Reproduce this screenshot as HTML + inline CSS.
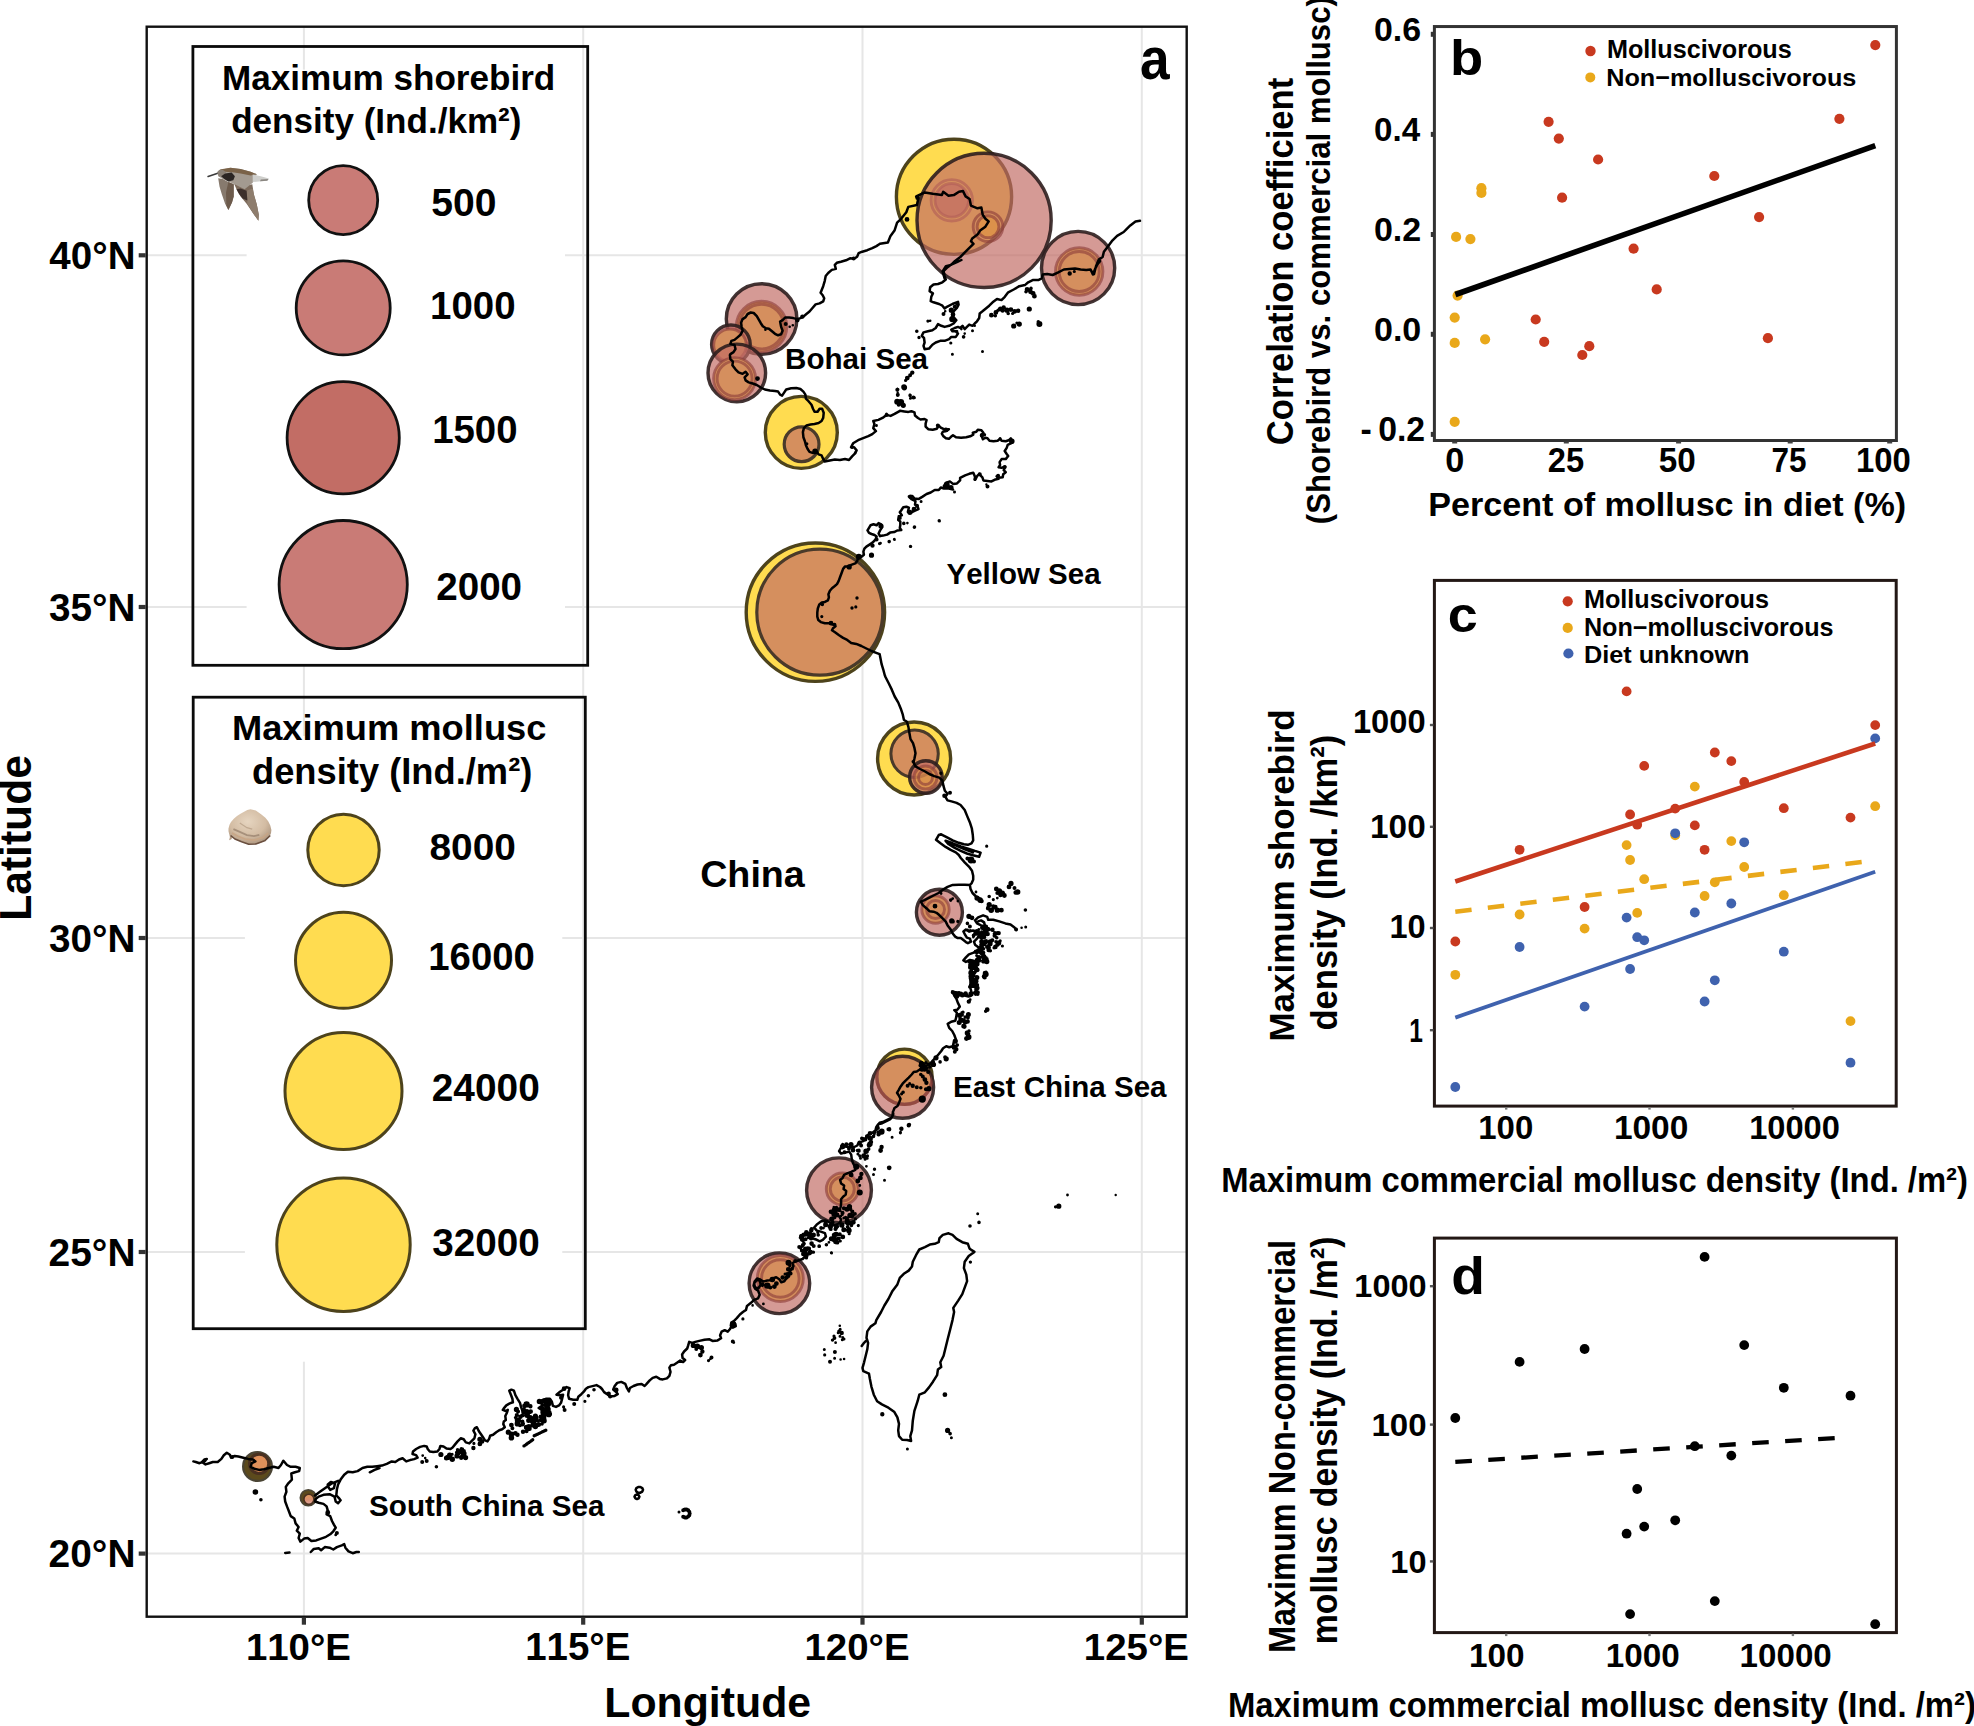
<!DOCTYPE html>
<html><head><meta charset="utf-8"><title>Figure</title>
<style>
html,body{margin:0;padding:0;background:#fff;}
svg{display:block;}
text{font-family:"Liberation Sans",sans-serif;font-weight:bold;font-kerning:none;font-variant-ligatures:none;}
</style></head><body>
<svg width="1974" height="1726" viewBox="0 0 1974 1726">
<rect width="1974" height="1726" fill="#fff"/>
<line x1="303.9" y1="26.7" x2="303.9" y2="1616.7" stroke="#e6e6e6" stroke-width="2.0"/>
<line x1="583.2" y1="26.7" x2="583.2" y2="1616.7" stroke="#e6e6e6" stroke-width="2.0"/>
<line x1="862.5" y1="26.7" x2="862.5" y2="1616.7" stroke="#e6e6e6" stroke-width="2.0"/>
<line x1="1141.8" y1="26.7" x2="1141.8" y2="1616.7" stroke="#e6e6e6" stroke-width="2.0"/>
<line x1="146.7" y1="255.3" x2="1186.7" y2="255.3" stroke="#e6e6e6" stroke-width="2.0"/>
<line x1="146.7" y1="607.0" x2="1186.7" y2="607.0" stroke="#e6e6e6" stroke-width="2.0"/>
<line x1="146.7" y1="938.0" x2="1186.7" y2="938.0" stroke="#e6e6e6" stroke-width="2.0"/>
<line x1="146.7" y1="1252.0" x2="1186.7" y2="1252.0" stroke="#e6e6e6" stroke-width="2.0"/>
<line x1="146.7" y1="1553.6" x2="1186.7" y2="1553.6" stroke="#e6e6e6" stroke-width="2.0"/>
<circle cx="954.0" cy="196.8" r="57.6" fill="#FFDC50" stroke="#4d431c" stroke-width="3.4" />
<circle cx="951.8" cy="200.3" r="16.8" fill="rgba(194,108,100,0.686)" stroke="rgba(140,62,58,0.62)" stroke-width="2.9" />
<circle cx="951.8" cy="200.3" r="20.7" fill="none" stroke="rgba(140,62,58,0.62)" stroke-width="2.9" />
<circle cx="984.1" cy="220.4" r="67.1" fill="rgba(194,108,100,0.686)" stroke="rgba(45,30,30,0.9)" stroke-width="3.4" />
<circle cx="988.0" cy="226.7" r="14.8" fill="none" stroke="rgba(140,62,58,0.62)" stroke-width="2.9" />
<circle cx="988.0" cy="226.7" r="10.9" fill="rgba(226,150,60,0.55)" stroke="rgba(140,62,58,0.62)" stroke-width="2.9" />
<circle cx="1078.1" cy="268.0" r="36.6" fill="rgba(194,108,100,0.686)" stroke="rgba(45,30,30,0.9)" stroke-width="3.4" />
<circle cx="1079.2" cy="271.5" r="23.7" fill="#D58F5E" stroke="rgba(140,62,58,0.62)" stroke-width="2.9" />
<circle cx="1079.2" cy="271.5" r="20.0" fill="none" stroke="rgba(140,62,58,0.62)" stroke-width="2.9" />
<circle cx="761.6" cy="319.0" r="35.3" fill="rgba(194,108,100,0.686)" stroke="rgba(45,30,30,0.9)" stroke-width="3.4" />
<circle cx="761.5" cy="326.6" r="25.3" fill="#D58F5E" stroke="rgba(140,62,58,0.62)" stroke-width="2.9" />
<circle cx="761.5" cy="326.6" r="22.3" fill="none" stroke="rgba(140,62,58,0.62)" stroke-width="2.9" />
<circle cx="730.9" cy="344.3" r="19.3" fill="rgba(194,108,100,0.686)" stroke="rgba(45,30,30,0.9)" stroke-width="3.4" />
<circle cx="730.0" cy="345.3" r="16.3" fill="#D58F5E" stroke="rgba(140,62,58,0.62)" stroke-width="2.9" />
<circle cx="736.8" cy="372.9" r="28.8" fill="rgba(194,108,100,0.686)" stroke="rgba(45,30,30,0.9)" stroke-width="3.4" />
<circle cx="734.6" cy="378.6" r="21.0" fill="#D58F5E" stroke="rgba(140,62,58,0.62)" stroke-width="2.9" />
<circle cx="734.6" cy="378.6" r="17.5" fill="none" stroke="rgba(140,62,58,0.62)" stroke-width="2.9" />
<circle cx="801.3" cy="432.4" r="36.0" fill="#FFDC50" stroke="#4d431c" stroke-width="3.4" />
<circle cx="801.6" cy="444.2" r="17.4" fill="#D58F5E" stroke="#4a3a2a" stroke-width="3.2" />
<circle cx="815.4" cy="612.2" r="69.2" fill="#FFDC50" stroke="#4d431c" stroke-width="3.4" />
<circle cx="819.8" cy="612.2" r="63.0" fill="#D58F5E" stroke="#4a3a2a" stroke-width="3.2" />
<circle cx="914.1" cy="758.5" r="36.5" fill="#FFDC50" stroke="#4d431c" stroke-width="3.4" />
<circle cx="914.6" cy="753.8" r="23.7" fill="#D58F5E" stroke="#4a3a2a" stroke-width="3.0" />
<circle cx="925.9" cy="777.0" r="16.3" fill="rgba(194,108,100,0.686)" stroke="rgba(45,30,30,0.9)" stroke-width="3.4" />
<circle cx="925.5" cy="777.5" r="11.5" fill="rgba(226,150,60,0.5)" stroke="rgba(140,62,58,0.62)" stroke-width="2.9" />
<circle cx="925.5" cy="777.5" r="7.0" fill="none" stroke="rgba(140,62,58,0.62)" stroke-width="2.9" />
<circle cx="939.4" cy="912.2" r="23.0" fill="rgba(194,108,100,0.686)" stroke="rgba(45,30,30,0.9)" stroke-width="3.4" />
<circle cx="935.5" cy="909.5" r="13.7" fill="#D58F5E" stroke="rgba(140,62,58,0.62)" stroke-width="2.9" />
<circle cx="935.5" cy="909.5" r="9.0" fill="none" stroke="rgba(140,62,58,0.62)" stroke-width="2.9" />
<circle cx="904.5" cy="1076.7" r="27.6" fill="#FFDC50" stroke="#4d431c" stroke-width="3.4" />
<circle cx="902.6" cy="1087.3" r="31.0" fill="rgba(194,108,100,0.686)" stroke="rgba(45,30,30,0.9)" stroke-width="3.4" />
<defs><clipPath id="wzc"><circle cx="902.6" cy="1087.3" r="30.8"/></clipPath></defs>
<circle cx="904.5" cy="1076.7" r="27.8" fill="none" stroke="rgba(140,62,58,0.62)" stroke-width="3.0" clip-path="url(#wzc)"/>
<circle cx="839.0" cy="1190.3" r="32.4" fill="rgba(194,108,100,0.686)" stroke="rgba(45,30,30,0.9)" stroke-width="3.4" />
<circle cx="842.3" cy="1189.0" r="16.0" fill="#D58F5E" stroke="rgba(140,62,58,0.62)" stroke-width="2.9" />
<circle cx="842.3" cy="1189.0" r="12.0" fill="none" stroke="rgba(140,62,58,0.62)" stroke-width="2.9" />
<circle cx="779.4" cy="1283.3" r="30.3" fill="rgba(194,108,100,0.686)" stroke="rgba(45,30,30,0.9)" stroke-width="3.4" />
<circle cx="780.3" cy="1278.5" r="23.0" fill="#D58F5E" stroke="rgba(140,62,58,0.62)" stroke-width="2.9" />
<circle cx="780.3" cy="1278.5" r="18.8" fill="none" stroke="rgba(140,62,58,0.62)" stroke-width="2.9" />
<defs><linearGradient id="bg2" x1="0" y1="0" x2="0" y2="1"><stop offset="0" stop-color="#E09A5A"/><stop offset="0.55" stop-color="#D98F70"/><stop offset="1" stop-color="#E0A8A0"/></linearGradient></defs>
<circle cx="257.5" cy="1466.5" r="14.4" fill="#5c4a1c" stroke="#4a4434" stroke-width="2.2" />
<circle cx="259.1" cy="1463.8" r="9.6" fill="#E0905A" stroke="#4a3020" stroke-width="3.0" />
<circle cx="308.3" cy="1497.8" r="7.9" fill="#5c4a1c" stroke="#4a4434" stroke-width="1.8" />
<circle cx="308.9" cy="1499.2" r="5.0" fill="url(#bg2)" stroke="#4a3020" stroke-width="1.6" />
<path d="M961.4,260.0 L956.9,262.2 L951.3,264.5 L946.9,267.8 L943.5,271.1 L944.6,275.6 L945.8,279.5 L942.4,282.3 L938.0,284.0 L933.5,284.5 L930.2,287.3 L929.6,291.2 L932.9,293.4 L931.3,296.8 L930.7,301.2 L933.5,302.3 L939.1,304.0 L942.4,305.7 L944.6,308.5 L946.9,306.8 L952.4,304.0 L958.0,301.8 L958.6,304.6 L956.9,307.9 L953.6,311.3 L952.4,315.7 L954.1,318.0 L956.3,320.2 L953.6,323.5 L949.1,325.8 L944.6,326.9 L941.3,325.8 L938.0,324.1 L935.7,328.0 L932.4,330.2 L927.9,331.3 L923.5,332.4 L921.8,335.8 L924.0,338.0 L924.6,342.5 L923.5,345.8 L924.6,349.2 L929.0,348.6 L932.4,344.7 L935.7,342.5 L940.2,340.8 L944.6,340.8 L949.1,339.1 L951.3,336.9 L955.8,336.9 L958.0,333.6 L955.8,331.3 L952.4,331.3 L951.3,329.7 L954.7,328.0 L958.0,326.9 L960.2,328.0 L962.5,325.8 L964.7,329.1 L966.9,326.9 L969.2,324.6 L972.5,325.8 L974.7,323.5 L977.0,321.3 L979.2,318.0 L979.7,313.5 L982.5,311.3 L985.9,308.5 L989.2,305.7 L992.6,302.3 L997.0,299.0 L1001.5,300.1 L1004.8,296.8 L1008.2,292.3 L1013.7,289.5 L1019.3,286.2 L1024.9,285.1 L1028.2,282.3 L1032.7,280.1 L1038.3,280.1 L1041.6,278.4 L1042.7,274.5 L1047.2,273.9 L1052.7,275.0 L1058.3,272.3 L1063.9,269.5 L1069.5,268.9 L1075.0,268.4 L1080.6,269.5 L1086.2,270.0 L1090.6,269.5 L1092.9,274.5 L1095.1,268.9 L1097.3,264.5 L1100.0,261.1 M880.0,243.8 L887.9,242.5 L890.5,235.9 L894.5,230.6 L897.1,222.7 L901.1,218.8 L906.3,212.2 L908.3,206.9 L916.9,205.0 L918.2,199.0 L916.2,196.4 L924.8,192.4 L932.7,193.8 L941.9,195.1 L943.2,191.8 L948.5,195.7 L953.8,195.1 L959.0,191.8 L963.0,191.1 L965.6,196.4 L969.6,199.0 L970.9,205.6 L977.5,208.3 L981.4,207.6 L982.7,214.8 L985.4,218.8 L988.7,221.4 L985.4,226.7 L980.1,230.6 L977.5,234.6 L972.2,238.5 L970.9,241.2 L973.5,243.8 L970.9,246.4 L965.6,251.7 L960.3,257.0 L955.1,260.9 L951.1,264.9 L945.9,266.2 L942.6,271.5 L944.5,278.1 M1140.0,220.8 L1135.5,221.4 L1130.3,225.4 L1126.3,229.3 L1123.7,232.0 L1117.1,235.9 L1111.8,241.2 L1107.9,246.4 L1103.9,251.7 L1102.6,257.0 L1098.7,259.6 L1096.0,266.2 L1094.0,274.1 L1090.7,270.2 M880.0,243.8 L876.4,246.1 L872.3,248.2 L867.3,250.2 L862.2,251.7 L858.6,253.2 L857.1,256.8 L854.1,258.8 L850.0,258.3 L846.0,260.3 L840.9,261.8 L836.8,262.8 L834.8,264.9 L835.8,268.9 L831.8,269.9 L828.2,273.0 L825.7,276.0 L824.7,281.1 L823.2,286.2 L821.6,290.2 L820.6,292.8 L822.7,295.3 L824.2,298.3 L823.2,301.4 L819.6,303.4 L815.6,304.4 L812.5,308.0 L809.5,311.5 L806.4,314.0 L803.4,316.6 L800.4,318.1 L797.3,319.1 L793.3,318.1 L789.2,317.6 L785.1,317.6 L782.6,320.1 L780.1,321.6 L781.1,326.7 L782.6,330.8 L781.1,334.3 L778.1,335.3 L775.0,333.8 L772.0,331.3 L768.9,328.7 L765.9,328.2 L762.8,326.2 L760.8,323.2 L758.8,319.6 L756.8,316.1 L753.7,313.0 L750.7,312.5 L747.6,314.0 L745.6,317.1 L742.6,319.1 L741.1,322.7 L741.6,326.7 L742.6,330.8 L740.5,334.8 L737.5,337.4 L734.5,339.9 L731.4,340.9 L730.4,343.9 L734.5,345.0 L735.5,349.0 L733.5,352.1 L730.4,354.1 M730.4,354.1 L729.9,355.1 L730.4,359.1 L732.9,361.7 L732.4,365.2 L735.5,369.3 L738.5,372.3 L742.6,373.8 L745.6,371.8 L747.6,374.3 L744.6,377.4 L745.6,380.4 L748.7,382.4 L752.7,383.5 L756.8,385.0 L760.8,387.5 L764.9,389.5 L769.9,390.5 L775.0,391.1 L778.1,391.6 L780.1,394.6 L782.1,395.6 L784.1,392.6 L786.2,389.5 L791.2,388.3 L796.3,388.0 L800.4,389.0 L803.4,391.6 L805.4,394.6 L805.9,398.7 L808.5,401.2 L811.5,404.7 L813.0,408.8 L814.5,411.8 L817.6,411.8 L819.6,408.8 L822.1,408.8 L823.7,412.8 L823.2,417.9 L821.6,421.0 L818.6,423.0 L814.5,424.0 L810.5,424.5 L806.4,425.5 L803.9,428.1 L802.9,432.1 L803.4,437.2 L804.9,441.2 L805.9,445.3 L807.5,448.8 L809.5,451.9 L812.5,452.9 L816.6,451.4 L818.6,454.4 L821.6,455.4 L823.2,459.0 L824.7,461.5 L829.8,460.5 L834.8,459.5 L839.9,460.0 L845.0,459.0 L849.0,460.0 L852.1,456.4 L855.1,453.4 L856.6,450.4 L854.1,447.3 L851.0,447.3 L853.1,443.3 L858.1,440.2 L863.2,438.2 L868.3,436.2 L872.3,434.1 L875.9,431.1 L873.3,428.1 L874.4,424.0 L873.3,421.0 L878.4,419.9 L882.5,417.9 L886.5,414.9 L890.6,415.9 L894.6,413.9 L900.0,410.8 M900.0,410.8 L904.3,411.4 L908.4,411.9 L911.4,411.2 L914.5,412.4 L915.0,415.5 L918.0,418.0 L920.5,419.5 L924.6,419.0 L926.6,420.0 L925.6,423.6 L925.6,426.6 L928.2,429.2 L932.7,429.7 L936.8,428.7 L938.8,425.6 L940.8,427.6 L944.9,429.7 L948.9,429.2 L946.9,430.7 L942.8,431.7 L941.8,433.7 L943.4,436.3 L945.9,438.3 L948.9,438.8 L951.0,436.8 L953.0,435.2 L956.0,437.3 L961.1,437.8 L966.2,437.3 L970.2,436.3 L973.3,434.7 L972.8,432.7 L976.3,431.7 L977.8,429.7 L981.4,430.2 L983.4,432.7 L981.4,435.2 L982.9,439.3 L985.4,437.8 L987.5,438.3 L989.5,440.8 L993.5,441.3 L997.6,440.8 L1000.1,438.8 L1001.6,440.8 L1005.7,441.3 L1008.7,440.3 L1010.8,438.3 L1012.8,441.8 L1010.8,443.4 L1007.7,444.9 L1006.7,447.9 L1004.7,451.0 L1006.7,454.0 L1008.2,456.0 L1005.7,459.1 L1001.6,459.1 L999.6,462.1 L1000.1,465.1 L998.6,467.2 L1001.6,467.7 L1005.2,466.7 L1003.7,470.2 L1005.7,472.2 L1003.2,474.3 L1002.7,477.3 L998.6,477.8 L996.6,476.3 L998.6,478.8 L994.5,479.8 L991.5,481.4 L987.5,480.9 L983.4,480.4 L982.4,477.3 L980.4,475.3 L979.3,473.8 L977.3,475.8 L975.3,479.8 L974.8,476.3 L973.3,472.8 L969.2,473.8 L965.1,475.3 L960.1,477.8 L960.1,480.4 L957.0,483.4 L953.0,483.9 L949.9,481.4 L945.9,482.9 L943.9,485.9 L948.9,486.9 L953.0,489.5 L948.9,488.5 L943.9,488.5 L940.8,487.5 L938.8,490.0 L934.7,490.0 L930.7,492.5 L926.6,494.0 L922.6,496.6 L918.5,499.1 L914.5,498.6 L912.4,496.1 L908.9,496.6 L911.4,499.1 L915.5,501.1 L915.0,504.7 L917.5,506.2 L918.5,509.2 L914.5,510.8 L910.4,512.8 L907.9,511.8 L908.9,507.7 L906.4,506.7 L903.3,507.2 L901.3,510.3 L899.8,512.3 L901.8,515.3 L898.8,516.3 L898.2,519.9 L900.3,521.4 L900.3,525.0 L899.8,528.0 L901.3,530.0 L897.2,530.5 L894.2,532.1 L890.1,532.6 L887.1,534.6 L883.0,535.6 L880.0,536.1 M880.0,536.1 L878.6,533.5 L880.1,530.4 L882.1,527.4 L881.1,524.3 L878.6,523.1 L876.6,525.3 L873.5,524.3 L870.5,525.3 L869.0,527.9 L867.5,530.4 L869.0,532.9 L871.5,534.0 L874.5,535.0 L876.6,536.5 L875.6,539.5 L872.5,542.6 L869.5,544.6 L866.4,546.6 L864.4,548.7 L863.4,551.7 L863.9,554.7 L861.4,556.8 L858.3,557.3 L857.3,560.8 L855.3,563.4 L851.2,564.9 L848.2,566.4 L845.1,566.4 L843.1,568.9 L841.6,573.0 L840.1,577.0 L838.6,581.1 L837.0,584.1 L834.5,586.2 L832.0,588.2 L829.9,590.7 L828.4,594.3 L828.9,597.3 L827.9,600.4 L824.9,601.9 L821.8,602.4 L819.3,604.4 L817.8,608.5 L817.3,612.5 L817.3,616.6 L818.3,620.1 L820.8,622.1 L824.9,623.2 L828.9,623.2 L833.0,624.2 L835.5,626.2 L833.0,628.2 L832.0,630.3 L835.0,632.3 L839.1,635.3 L843.1,637.9 L847.2,639.9 L851.2,642.9 L856.3,643.9 L861.4,646.0 L866.4,648.5 L871.5,651.0 L875.6,652.6 L879.6,654.1 L880.6,659.1 L881.6,664.2 L883.2,669.3 L884.7,675.0 M884.7,675.0 L885.6,677.2 L888.7,683.3 L891.7,689.4 L894.7,696.5 L898.3,702.6 L900.8,708.7 L902.8,714.7 L903.9,719.8 L906.9,721.8 L908.4,726.9 L909.4,733.0 L910.5,739.1 L913.0,743.1 L914.5,748.2 L915.5,753.3 L914.5,758.3 L913.5,762.4 L915.5,766.4 L920.1,769.0 L925.1,771.5 L929.2,774.0 L934.3,776.1 L939.3,777.6 L942.4,780.6 L943.4,785.7 L944.9,790.8 L947.5,793.8 L945.4,796.8 L947.5,800.4 L951.5,801.4 L956.6,802.9 L960.6,805.0 L964.7,810.0 L967.2,816.1 L969.8,822.2 L971.8,828.3 L972.8,835.0 M972.8,835.0 L973.2,840.3 L971.5,843.3 L967.9,844.8 L963.9,844.3 L958.8,842.8 L952.7,840.3 L946.6,837.2 L941.6,834.7 L939.0,834.7 L936.0,839.8 L940.5,843.3 L945.6,846.9 L950.7,849.9 L955.8,852.4 L958.8,855.0 L960.8,858.0 L964.9,862.6 L968.9,866.6 L972.0,870.7 L973.2,875.8 L973.2,879.8 L971.5,883.4 L969.9,884.9 M945.6,840.8 L952.7,843.3 L960.8,846.4 L968.9,848.9 L975.0,850.9 L980.6,852.6 L979.1,856.7 L973.0,855.3 L966.9,853.5 L960.8,850.9 L954.7,847.9 L948.7,844.3 L945.6,840.8 M948.7,841.8 L956.8,845.8 L964.9,849.4 L973.0,852.4 M969.9,884.9 L964.9,884.7 L958.8,884.7 L952.7,884.9 L947.6,886.9 L942.6,889.9 L938.5,893.0 L933.5,895.5 L928.4,898.1 L924.3,900.1 L920.8,901.6 L922.8,905.1 L926.4,908.2 L929.4,911.2 L933.5,911.7 L936.5,912.8 L939.5,915.3 L942.6,918.3 L945.6,921.4 L947.6,925.4 L950.7,929.5 L952.7,933.5 L955.2,936.6 L957.8,938.1 L960.8,938.1 L963.4,940.1 L965.9,942.1 L967.9,943.2 L971.0,941.6 L969.9,938.6 L966.9,937.6 L964.9,934.5 L963.4,931.5 L965.9,929.5 L968.9,931.5 L973.0,930.5 L977.0,931.5 L980.1,934.5 L977.0,938.6 L974.0,941.6 L975.0,944.7 L979.1,947.7 L977.0,950.8 L973.0,952.8 L968.9,954.3 L965.9,957.4 L963.4,960.4 L965.9,961.9 L969.9,959.9 L973.0,960.9 L975.0,963.9 L973.0,966.0 L972.0,970.0 L971.0,974.1 L969.9,978.1 L971.0,982.2 L969.9,986.2 L971.0,990.3 L972.0,995.0 M969.9,884.9 L970.5,888.9 L972.5,893.0 L975.5,896.0 L979.1,898.1 L981.6,900.6 M975.0,920.4 L978.1,917.3 L983.1,915.3 L987.2,916.8 L988.2,919.8 L993.3,919.8 L999.3,921.4 L1005.4,923.4 L1010.5,924.4 L1014.5,927.5 L1016.1,929.5 M975.0,920.4 L977.0,923.4 L981.1,925.4 L985.1,926.4 L984.1,922.4 L981.1,920.4 L978.1,921.4 M972.0,995.0 L968.5,996.5 L964.4,995.5 L960.4,993.5 L956.3,992.4 L952.2,991.4 L954.3,995.5 L956.3,998.5 L957.8,1002.6 L959.8,1006.6 L957.3,1009.7 L954.3,1010.2 L956.8,1012.7 L956.3,1016.8 L955.3,1020.8 L951.2,1021.8 L947.7,1023.9 L949.2,1027.9 L952.2,1031.0 L954.3,1035.0 L955.8,1039.1 L953.8,1042.1 L952.8,1046.2 L949.2,1047.2 L946.2,1046.2 L943.1,1048.2 L941.1,1051.2 L938.6,1054.3 L936.0,1057.3 L933.0,1060.4 L930.5,1063.4 L926.9,1065.4 L922.8,1067.5 L919.8,1069.5 L916.8,1071.5 L913.7,1072.0 L911.7,1074.5 L908.7,1077.6 L905.6,1080.6 L902.6,1083.7 L900.5,1086.7 L898.5,1090.3 L897.0,1092.8 L899.0,1095.8 L900.5,1098.9 L899.0,1102.9 L897.5,1106.0 L894.5,1108.0 L892.9,1112.1 L892.4,1116.1 L890.4,1119.1 L886.4,1121.2 L882.3,1123.2 L878.2,1124.2 L876.2,1127.3 L875.2,1131.3 L874.2,1135.0 M892.9,1112.0 L893.3,1114.1 L891.8,1117.6 L887.7,1119.6 L883.7,1121.7 L879.6,1122.7 L877.6,1125.2 L878.6,1128.2 L875.6,1130.3 L872.5,1132.8 L869.5,1133.8 L866.4,1136.4 L865.4,1139.4 L862.4,1141.4 L858.8,1142.4 L857.3,1145.5 L854.3,1147.0 L851.2,1147.5 L848.2,1147.0 L845.1,1146.5 L842.6,1144.0 L841.1,1147.5 L839.1,1151.1 L841.1,1153.6 L845.1,1152.6 L849.2,1151.6 L851.2,1154.6 L851.7,1158.7 L852.8,1162.7 L854.8,1166.3 L855.3,1169.8 L851.2,1171.8 L847.2,1173.4 L844.1,1174.9 L842.6,1177.9 L840.1,1179.9 L841.1,1183.5 L844.1,1185.5 L843.6,1189.1 L846.2,1191.1 L845.7,1194.6 L843.1,1196.7 L841.1,1199.2 L841.1,1203.3 L840.6,1207.3 L839.1,1210.4 L835.0,1210.4 L832.5,1212.4 L835.0,1215.4 L839.1,1216.4 L841.1,1219.5 L840.1,1222.5 L837.0,1224.5 L834.0,1225.6 L831.0,1223.5 L827.9,1221.5 L824.9,1220.5 L820.8,1221.5 L816.8,1224.5 L814.2,1227.6 L816.8,1230.6 L820.8,1231.6 L824.9,1233.2 L825.9,1236.7 L822.8,1239.8 L819.8,1241.3 L816.8,1239.8 L813.7,1238.7 L810.7,1236.7 L806.6,1235.2 L802.6,1235.7 L800.0,1237.7 L802.6,1240.8 L804.6,1243.8 L802.6,1246.3 L800.0,1247.9 L802.6,1250.9 L805.6,1251.9 L807.6,1255.0 L804.6,1257.0 L802.6,1259.0 L799.5,1260.0 L795.5,1261.5 L792.4,1263.1 L793.5,1266.1 L791.4,1269.1 L789.4,1272.2 L787.4,1275.2 L786.4,1278.3 L784.3,1281.3 L781.3,1282.3 L779.3,1279.3 L776.2,1277.3 L773.2,1278.3 L770.1,1280.3 M770.1,1280.3 L767.3,1280.5 L763.2,1281.6 L760.2,1279.5 L757.1,1278.5 L754.6,1281.6 L753.6,1285.6 L755.1,1288.7 L758.1,1290.7 L759.7,1294.7 L758.1,1298.3 L754.1,1299.8 L751.0,1302.8 L747.0,1305.9 L746.0,1309.9 L742.9,1312.0 L739.9,1314.5 L736.8,1318.1 L733.8,1321.1 L731.3,1322.6 L730.8,1325.7 L732.8,1327.7 L735.8,1326.2 L734.8,1323.1 L731.8,1326.2 L729.8,1329.2 L727.7,1331.7 L724.7,1330.2 L721.6,1331.7 L720.1,1335.3 L721.1,1338.3 L717.6,1340.4 L712.5,1340.9 L709.5,1339.3 L704.4,1339.8 L699.3,1340.9 L695.3,1341.9 L692.2,1342.9 L689.2,1341.9 L688.2,1345.4 L687.2,1348.5 L684.1,1351.5 L682.1,1354.5 L682.6,1358.1 L685.1,1360.1 L683.1,1362.1 L680.1,1360.6 L677.0,1362.7 L674.0,1364.7 L671.0,1365.2 L669.4,1367.7 L670.5,1371.8 L669.4,1375.8 L666.9,1378.4 L662.8,1379.4 L659.8,1378.9 L656.3,1376.8 L652.7,1377.9 L649.7,1380.4 L646.6,1383.9 L644.6,1386.0 L641.6,1383.9 L637.5,1384.5 L633.5,1386.0 L629.9,1388.0 L628.9,1391.5 L626.9,1388.0 L625.3,1383.9 L621.3,1381.9 L617.2,1382.9 L614.7,1386.0 L613.2,1389.5 L616.2,1392.1 L617.7,1394.1 L614.2,1396.1 L610.1,1396.6 L607.1,1394.1 L604.1,1392.1 L602.0,1389.0 L600.0,1387.0 M755.1,1287.6 L754.1,1283.6 L756.6,1280.0 L759.7,1280.5 L760.7,1284.6 L758.6,1288.2 L755.1,1287.6 M600.0,1387.0 L596.5,1385.1 L592.5,1386.1 L588.4,1387.1 L585.9,1388.7 L583.8,1391.7 L581.3,1394.2 L578.3,1396.8 L577.3,1399.8 L573.2,1399.8 L569.1,1398.8 L568.1,1395.2 L568.6,1391.7 L569.7,1388.2 L566.6,1387.1 L563.1,1389.7 L560.0,1391.7 L556.5,1394.7 L560.0,1395.2 L563.1,1394.7 L562.1,1398.8 L561.0,1402.8 L559.0,1405.4 L556.0,1406.9 L552.9,1405.9 L551.9,1401.8 L549.9,1398.8 L545.8,1398.8 L541.8,1400.3 L538.7,1402.3 L541.8,1403.9 L544.8,1404.9 L540.8,1406.4 L538.7,1407.9 L541.8,1409.9 L544.8,1411.0 L543.8,1414.0 L542.8,1417.0 L540.8,1420.1 L537.7,1421.1 L534.7,1419.1 L531.6,1417.0 L528.6,1416.0 L525.6,1413.0 L522.5,1411.0 L521.0,1406.9 L520.0,1402.8 L517.5,1398.8 L515.4,1395.2 L513.9,1390.7 L511.4,1389.7 L509.3,1390.7 L510.9,1394.7 L512.4,1398.8 L512.9,1402.3 L509.8,1403.4 L506.3,1405.4 L503.8,1408.4 L502.8,1409.9 L505.8,1411.0 L507.8,1409.9 L506.8,1413.0 L505.3,1416.0 L505.8,1420.1 L503.8,1421.6 L503.3,1424.1 L504.8,1427.2 L502.2,1429.2 L499.2,1430.2 L496.2,1432.2 L493.1,1434.8 L490.1,1435.8 L489.1,1438.8 L487.5,1441.4 L485.0,1440.4 L483.0,1437.3 L481.0,1434.3 L478.9,1431.2 L476.9,1427.2 L474.9,1428.2 L473.4,1430.7 L475.4,1434.3 L474.4,1438.3 L471.8,1440.9 L469.3,1443.4 L465.8,1442.4 L463.7,1439.3 L460.7,1438.3 L457.6,1441.4 L455.1,1444.4 L452.6,1447.5 L450.5,1449.0 L446.5,1448.5 L443.5,1446.4 L440.4,1445.9 L439.4,1449.0 L437.4,1451.5 L433.3,1452.0 L429.8,1451.5 L427.7,1449.0 L426.7,1446.4 L424.2,1445.9 L420.1,1446.9 L416.1,1449.0 L413.0,1451.5 L412.5,1454.0 L416.1,1455.1 L417.6,1457.6 L414.1,1459.1 L410.0,1460.1 M410.0,1460.1 L406.2,1461.4 L402.6,1458.3 L399.0,1459.5 L395.3,1462.0 L391.7,1461.4 L386.8,1463.8 L381.9,1465.6 L377.1,1466.2 L372.2,1466.8 L367.3,1466.8 L362.5,1468.0 L357.6,1471.1 L352.7,1472.3 L347.9,1471.7 L344.2,1474.7 L340.6,1479.6 L338.1,1484.5 L336.9,1489.3 L336.3,1495.4 L338.7,1497.8 L340.6,1500.3 L338.1,1503.3 L335.7,1501.5 L334.5,1496.6 L329.6,1494.2 L323.5,1494.8 L318.7,1496.6 L315.6,1499.1 L315.0,1501.5 L318.7,1502.7 L323.5,1503.9 L326.6,1506.4 L327.8,1510.6 L326.6,1514.3 L330.2,1516.1 L332.0,1521.0 L333.9,1524.6 L335.7,1527.7 L333.3,1531.3 L330.2,1534.3 L326.0,1536.8 L321.1,1538.6 L316.2,1540.4 L311.4,1541.0 L307.7,1538.0 L304.1,1538.6 L300.4,1541.6 L298.6,1538.0 L299.8,1533.7 L296.8,1530.7 L298.6,1527.0 L295.6,1523.4 L294.3,1518.5 L290.7,1516.1 L288.9,1511.2 L287.0,1506.4 L285.2,1501.5 L284.6,1496.6 L286.4,1491.8 L285.8,1486.9 L288.3,1483.3 L291.9,1479.6 L291.3,1473.5 L294.9,1472.3 L299.2,1471.1 L299.8,1468.0 L295.6,1466.8 L290.7,1466.8 L287.0,1465.0 L283.4,1460.7 L281.0,1465.0 L278.5,1468.0 L273.7,1466.8 L268.8,1468.0 L263.9,1469.3 L259.1,1469.9 L254.2,1468.7 L250.6,1466.8 L251.8,1463.2 L255.4,1461.4 L253.0,1459.5 L248.1,1458.9 L243.3,1457.7 L238.4,1456.5 L234.7,1455.9 L231.1,1457.7 L229.9,1454.7 L226.8,1452.8 L223.8,1455.3 L221.4,1458.9 L217.7,1462.0 L212.8,1462.0 L209.2,1463.2 L205.5,1464.4 L201.9,1462.0 L204.3,1459.5 L206.8,1458.9 L204.3,1461.4 L199.5,1463.2 L195.8,1462.0 L193.4,1461.4 M315.0,1495.4 L319.9,1491.8 L326.0,1487.5 L332.0,1483.3 L338.1,1480.8 M327.8,1484.5 L330.8,1482.0 L335.1,1483.3 L333.9,1488.1 L330.2,1489.9 L327.8,1486.3 L327.8,1484.5 M310.8,1552.0 L313.8,1548.9 L318.7,1548.3 L321.1,1550.2 L324.8,1547.1 L329.6,1547.7 L333.3,1549.5 L336.9,1547.1 L341.8,1545.3 L344.2,1544.1 L345.4,1547.7 L348.5,1551.4 L352.7,1553.2 L356.4,1552.0 L358.8,1552.0 M285.2,1553.0 L289.5,1552.6 M369.8,1472.3 L374.6,1469.9 L379.5,1468.0 M948.5,1233.3 L952.5,1234.9 L956.6,1238.9 L962.3,1242.2 L967.9,1243.8 L969.6,1248.7 L974.4,1251.9 L968.7,1256.0 L964.7,1261.7 L963.9,1268.1 L966.3,1274.6 L967.1,1281.1 L964.7,1287.6 L962.3,1294.1 L958.2,1300.6 L953.3,1307.9 L954.1,1312.0 L952.5,1320.1 L950.1,1329.8 L947.6,1339.5 L945.2,1349.3 L943.6,1355.8 L940.3,1362.3 L941.2,1367.1 L937.9,1369.6 L937.1,1375.2 L933.0,1381.7 L929.0,1387.4 L924.9,1392.3 L919.3,1394.7 L917.6,1401.2 L914.4,1410.9 L912.8,1420.7 L912.0,1430.4 L910.3,1436.1 L911.1,1440.9 L907.1,1440.1 L902.2,1439.8 L899.0,1436.1 L898.2,1430.4 L899.0,1423.9 L897.4,1417.4 L894.1,1411.7 L888.4,1407.7 L881.9,1404.4 L877.1,1401.2 L873.8,1394.7 L871.4,1386.6 L869.8,1378.5 L869.0,1373.6 L863.3,1371.2 L862.5,1367.9 L864.1,1362.3 L865.7,1355.8 L867.3,1349.3 L868.1,1342.8 L866.5,1337.9 L867.3,1331.4 L870.6,1326.6 L875.4,1323.3 L876.3,1320.1 L881.1,1312.0 L884.4,1305.5 L888.4,1299.0 L892.5,1290.9 L897.4,1284.4 L899.8,1277.9 L903.8,1273.8 L908.7,1270.6 L912.0,1266.5 L912.8,1261.7 L916.0,1255.2 L919.3,1249.5 L924.9,1247.1 L929.8,1244.6 L934.7,1243.8 L938.7,1242.2 L939.5,1238.1 L942.8,1234.9 L948.5,1233.3 M861.7,1346.0 L864.1,1342.8 L865.7,1341.2 M643.0,1489.8 L642.3,1491.6 L640.4,1492.7 L638.2,1492.7 L636.4,1491.6 L635.7,1489.8 L636.4,1488.1 L638.2,1487.0 L640.4,1487.0 L642.3,1488.1 L643.0,1489.8 M639.4,1496.7 L638.7,1498.3 L637.0,1499.0 L635.3,1498.3 L634.5,1496.7 L635.3,1495.2 L637.0,1494.5 L638.7,1495.2 L639.4,1496.7" fill="none" stroke="#000" stroke-width="2.5" stroke-linejoin="round" stroke-linecap="round"/>
<path d="M948.7,310.2a2.6,2.6 0 1,0 5.2,0a2.6,2.6 0 1,0 -5.2,0 M950.6,314.6a2.4,2.4 0 1,0 4.8,0a2.4,2.4 0 1,0 -4.8,0 M949.2,319.1a3.2,3.2 0 1,0 6.4,0a3.2,3.2 0 1,0 -6.4,0 M952.7,306.8a2.0,2.0 0 1,0 4.0,0a2.0,2.0 0 1,0 -4.0,0 M955.1,304.0a1.8,1.8 0 1,0 3.6,0a1.8,1.8 0 1,0 -3.6,0 M989.0,315.2a2.4,2.4 0 1,0 4.8,0a2.4,2.4 0 1,0 -4.8,0 M993.5,312.4a2.4,2.4 0 1,0 4.8,0a2.4,2.4 0 1,0 -4.8,0 M993.5,315.7a1.8,1.8 0 1,0 3.6,0a1.8,1.8 0 1,0 -3.6,0 M998.0,309.0a2.4,2.4 0 1,0 4.8,0a2.4,2.4 0 1,0 -4.8,0 M1001.5,307.4a2.2,2.2 0 1,0 4.4,0a2.2,2.2 0 1,0 -4.4,0 M1004.4,310.2a2.6,2.6 0 1,0 5.2,0a2.6,2.6 0 1,0 -5.2,0 M1008.5,309.6a2.4,2.4 0 1,0 4.8,0a2.4,2.4 0 1,0 -4.8,0 M1012.4,311.3a2.4,2.4 0 1,0 4.8,0a2.4,2.4 0 1,0 -4.8,0 M1016.0,310.7a2.2,2.2 0 1,0 4.4,0a2.2,2.2 0 1,0 -4.4,0 M1006.4,313.5a1.8,1.8 0 1,0 3.6,0a1.8,1.8 0 1,0 -3.6,0 M1000.6,310.7a2.0,2.0 0 1,0 4.0,0a2.0,2.0 0 1,0 -4.0,0 M996.3,310.2a1.8,1.8 0 1,0 3.6,0a1.8,1.8 0 1,0 -3.6,0 M1011.0,313.5a1.6,1.6 0 1,0 3.2,0a1.6,1.6 0 1,0 -3.2,0 M1026.7,309.0a2.6,2.6 0 1,0 5.2,0a2.6,2.6 0 1,0 -5.2,0 M1024.7,289.5a2.4,2.4 0 1,0 4.8,0a2.4,2.4 0 1,0 -4.8,0 M1028.1,291.8a2.4,2.4 0 1,0 4.8,0a2.4,2.4 0 1,0 -4.8,0 M1030.8,293.4a2.4,2.4 0 1,0 4.8,0a2.4,2.4 0 1,0 -4.8,0 M1032.0,296.2a2.4,2.4 0 1,0 4.8,0a2.4,2.4 0 1,0 -4.8,0 M1024.2,291.8a1.8,1.8 0 1,0 3.6,0a1.8,1.8 0 1,0 -3.6,0 M1029.2,288.4a1.8,1.8 0 1,0 3.6,0a1.8,1.8 0 1,0 -3.6,0 M1011.1,326.0a2.6,2.6 0 1,0 5.2,0a2.6,2.6 0 1,0 -5.2,0 M1016.7,324.1a2.6,2.6 0 1,0 5.2,0a2.6,2.6 0 1,0 -5.2,0 M1015.3,323.0a1.6,1.6 0 1,0 3.2,0a1.6,1.6 0 1,0 -3.2,0 M1036.4,324.1a3.0,3.0 0 1,0 6.0,0a3.0,3.0 0 1,0 -6.0,0 M1036.5,321.9a1.8,1.8 0 1,0 3.6,0a1.8,1.8 0 1,0 -3.6,0 M926.3,321.1a1.6,1.6 0 1,0 3.2,0a1.6,1.6 0 1,0 -3.2,0 M928.9,320.7a1.3,1.3 0 1,0 2.6,0a1.3,1.3 0 1,0 -2.6,0 M941.5,314.1a2.0,2.0 0 1,0 4.0,0a2.0,2.0 0 1,0 -4.0,0 M943.9,311.3a1.3,1.3 0 1,0 2.6,0a1.3,1.3 0 1,0 -2.6,0 M915.0,331.3a1.8,1.8 0 1,0 3.6,0a1.8,1.8 0 1,0 -3.6,0 M917.3,337.5a1.7,1.7 0 1,0 3.4,0a1.7,1.7 0 1,0 -3.4,0 M950.9,354.2a1.5,1.5 0 1,0 3.0,0a1.5,1.5 0 1,0 -3.0,0 M981.0,351.6a1.5,1.5 0 1,0 3.0,0a1.5,1.5 0 1,0 -3.0,0 M949.2,343.0a1.6,1.6 0 1,0 3.2,0a1.6,1.6 0 1,0 -3.2,0 M961.8,336.9a1.8,1.8 0 1,0 3.6,0a1.8,1.8 0 1,0 -3.6,0 M971.0,330.8a1.5,1.5 0 1,0 3.0,0a1.5,1.5 0 1,0 -3.0,0 M963.4,333.6a1.3,1.3 0 1,0 2.6,0a1.3,1.3 0 1,0 -2.6,0 M973.4,325.8a1.3,1.3 0 1,0 2.6,0a1.3,1.3 0 1,0 -2.6,0 M955.4,331.3a1.5,1.5 0 1,0 3.0,0a1.5,1.5 0 1,0 -3.0,0 M960.1,329.1a1.3,1.3 0 1,0 2.6,0a1.3,1.3 0 1,0 -2.6,0 M910.1,372.6a2.2,2.2 0 1,0 4.4,0a2.2,2.2 0 1,0 -4.4,0 M908.1,375.3a2.0,2.0 0 1,0 4.0,0a2.0,2.0 0 1,0 -4.0,0 M904.9,378.1a2.4,2.4 0 1,0 4.8,0a2.4,2.4 0 1,0 -4.8,0 M901.2,387.0a2.8,2.8 0 1,0 5.6,0a2.8,2.8 0 1,0 -5.6,0 M895.3,389.8a2.0,2.0 0 1,0 4.0,0a2.0,2.0 0 1,0 -4.0,0 M895.8,394.8a2.0,2.0 0 1,0 4.0,0a2.0,2.0 0 1,0 -4.0,0 M908.3,395.4a1.8,1.8 0 1,0 3.6,0a1.8,1.8 0 1,0 -3.6,0 M911.4,397.6a2.0,2.0 0 1,0 4.0,0a2.0,2.0 0 1,0 -4.0,0 M904.0,380.4a1.6,1.6 0 1,0 3.2,0a1.6,1.6 0 1,0 -3.2,0 M904.6,219.4a2.4,2.4 0 1,0 4.8,0a2.4,2.4 0 1,0 -4.8,0 M915.3,197.7a2.2,2.2 0 1,0 4.4,0a2.2,2.2 0 1,0 -4.4,0 M1067.5,273.5a2.2,2.2 0 1,0 4.4,0a2.2,2.2 0 1,0 -4.4,0 M1072.7,271.5a1.6,1.6 0 1,0 3.2,0a1.6,1.6 0 1,0 -3.2,0 M851.6,258.6a2.0,2.0 0 1,0 4.0,0a2.0,2.0 0 1,0 -4.0,0 M800.2,316.6a2.2,2.2 0 1,0 4.4,0a2.2,2.2 0 1,0 -4.4,0 M794.9,320.1a2.4,2.4 0 1,0 4.8,0a2.4,2.4 0 1,0 -4.8,0 M783.7,323.9a2.0,2.0 0 1,0 4.0,0a2.0,2.0 0 1,0 -4.0,0 M788.4,326.7a1.3,1.3 0 1,0 2.6,0a1.3,1.3 0 1,0 -2.6,0 M791.5,325.2a1.3,1.3 0 1,0 2.6,0a1.3,1.3 0 1,0 -2.6,0 M764.1,329.8a1.3,1.3 0 1,0 2.6,0a1.3,1.3 0 1,0 -2.6,0 M755.1,378.6a2.4,2.4 0 1,0 4.8,0a2.4,2.4 0 1,0 -4.8,0 M812.3,451.4a2.8,2.8 0 1,0 5.6,0a2.8,2.8 0 1,0 -5.6,0 M805.4,443.8a1.5,1.5 0 1,0 3.0,0a1.5,1.5 0 1,0 -3.0,0 M896.0,389.0a1.2,1.2 0 1,0 2.4,0a1.2,1.2 0 1,0 -2.4,0 M896.5,392.6a1.2,1.2 0 1,0 2.4,0a1.2,1.2 0 1,0 -2.4,0 M896.5,395.6a1.2,1.2 0 1,0 2.4,0a1.2,1.2 0 1,0 -2.4,0 M894.6,401.7a2.6,2.6 0 1,0 5.2,0a2.6,2.6 0 1,0 -5.2,0 M896.7,404.7a2.0,2.0 0 1,0 4.0,0a2.0,2.0 0 1,0 -4.0,0 M874.9,425.5a1.5,1.5 0 1,0 3.0,0a1.5,1.5 0 1,0 -3.0,0 M885.0,414.1a1.5,1.5 0 1,0 3.0,0a1.5,1.5 0 1,0 -3.0,0 M850.8,447.8a1.3,1.3 0 1,0 2.6,0a1.3,1.3 0 1,0 -2.6,0 M853.8,452.9a1.3,1.3 0 1,0 2.6,0a1.3,1.3 0 1,0 -2.6,0 M901.5,387.6a2.8,2.8 0 1,0 5.6,0a2.8,2.8 0 1,0 -5.6,0 M895.9,389.6a1.8,1.8 0 1,0 3.6,0a1.8,1.8 0 1,0 -3.6,0 M895.9,395.2a1.8,1.8 0 1,0 3.6,0a1.8,1.8 0 1,0 -3.6,0 M908.6,394.7a1.3,1.3 0 1,0 2.6,0a1.3,1.3 0 1,0 -2.6,0 M908.9,398.2a1.5,1.5 0 1,0 3.0,0a1.5,1.5 0 1,0 -3.0,0 M912.7,397.7a1.6,1.6 0 1,0 3.2,0a1.6,1.6 0 1,0 -3.2,0 M894.2,401.8a3.0,3.0 0 1,0 6.0,0a3.0,3.0 0 1,0 -6.0,0 M897.4,402.3a3.4,3.4 0 1,0 6.8,0a3.4,3.4 0 1,0 -6.8,0 M900.7,405.3a2.6,2.6 0 1,0 5.2,0a2.6,2.6 0 1,0 -5.2,0 M884.6,415.0a2.0,2.0 0 1,0 4.0,0a2.0,2.0 0 1,0 -4.0,0 M935.8,425.6a2.0,2.0 0 1,0 4.0,0a2.0,2.0 0 1,0 -4.0,0 M943.5,429.9a2.4,2.4 0 1,0 4.8,0a2.4,2.4 0 1,0 -4.8,0 M979.7,435.2a2.2,2.2 0 1,0 4.4,0a2.2,2.2 0 1,0 -4.4,0 M982.6,434.7a1.8,1.8 0 1,0 3.6,0a1.8,1.8 0 1,0 -3.6,0 M1009.0,441.3a2.8,2.8 0 1,0 5.6,0a2.8,2.8 0 1,0 -5.6,0 M998.6,438.6a1.5,1.5 0 1,0 3.0,0a1.5,1.5 0 1,0 -3.0,0 M985.5,486.6a2.0,2.0 0 1,0 4.0,0a2.0,2.0 0 1,0 -4.0,0 M985.2,484.4a1.2,1.2 0 1,0 2.4,0a1.2,1.2 0 1,0 -2.4,0 M953.0,492.0a1.5,1.5 0 1,0 3.0,0a1.5,1.5 0 1,0 -3.0,0 M944.1,484.4a2.8,2.8 0 1,0 5.6,0a2.8,2.8 0 1,0 -5.6,0 M948.4,487.5a2.6,2.6 0 1,0 5.2,0a2.6,2.6 0 1,0 -5.2,0 M919.6,501.6a1.5,1.5 0 1,0 3.0,0a1.5,1.5 0 1,0 -3.0,0 M908.2,496.6a2.2,2.2 0 1,0 4.4,0a2.2,2.2 0 1,0 -4.4,0 M911.6,509.2a2.4,2.4 0 1,0 4.8,0a2.4,2.4 0 1,0 -4.8,0 M907.3,512.3a2.6,2.6 0 1,0 5.2,0a2.6,2.6 0 1,0 -5.2,0 M915.0,505.7a2.0,2.0 0 1,0 4.0,0a2.0,2.0 0 1,0 -4.0,0 M937.6,520.9a1.7,1.7 0 1,0 3.4,0a1.7,1.7 0 1,0 -3.4,0 M912.7,527.0a1.8,1.8 0 1,0 3.6,0a1.8,1.8 0 1,0 -3.6,0 M902.0,523.4a1.8,1.8 0 1,0 3.6,0a1.8,1.8 0 1,0 -3.6,0 M906.1,523.1a1.3,1.3 0 1,0 2.6,0a1.3,1.3 0 1,0 -2.6,0 M878.4,526.0a2.6,2.6 0 1,0 5.2,0a2.6,2.6 0 1,0 -5.2,0 M887.5,541.7a1.6,1.6 0 1,0 3.2,0a1.6,1.6 0 1,0 -3.2,0 M893.1,539.7a1.4,1.4 0 1,0 2.8,0a1.4,1.4 0 1,0 -2.8,0 M909.1,546.5a1.6,1.6 0 1,0 3.2,0a1.6,1.6 0 1,0 -3.2,0 M879.1,543.2a1.4,1.4 0 1,0 2.8,0a1.4,1.4 0 1,0 -2.8,0 M897.8,517.9a2.0,2.0 0 1,0 4.0,0a2.0,2.0 0 1,0 -4.0,0 M977.8,474.3a2.0,2.0 0 1,0 4.0,0a2.0,2.0 0 1,0 -4.0,0 M973.2,479.3a1.6,1.6 0 1,0 3.2,0a1.6,1.6 0 1,0 -3.2,0 M1002.7,467.0a2.0,2.0 0 1,0 4.0,0a2.0,2.0 0 1,0 -4.0,0 M996.1,475.8a2.0,2.0 0 1,0 4.0,0a2.0,2.0 0 1,0 -4.0,0 M868.9,555.2a2.6,2.6 0 1,0 5.2,0a2.6,2.6 0 1,0 -5.2,0 M855.8,556.8a3.0,3.0 0 1,0 6.0,0a3.0,3.0 0 1,0 -6.0,0 M846.6,566.9a2.6,2.6 0 1,0 5.2,0a2.6,2.6 0 1,0 -5.2,0 M887.4,541.6a1.8,1.8 0 1,0 3.6,0a1.8,1.8 0 1,0 -3.6,0 M892.8,539.3a1.5,1.5 0 1,0 3.0,0a1.5,1.5 0 1,0 -3.0,0 M908.8,546.4a1.7,1.7 0 1,0 3.4,0a1.7,1.7 0 1,0 -3.4,0 M912.6,527.2a1.8,1.8 0 1,0 3.6,0a1.8,1.8 0 1,0 -3.6,0 M937.5,520.8a1.7,1.7 0 1,0 3.4,0a1.7,1.7 0 1,0 -3.4,0 M855.3,598.0a1.7,1.7 0 1,0 3.4,0a1.7,1.7 0 1,0 -3.4,0 M850.3,608.0a1.7,1.7 0 1,0 3.4,0a1.7,1.7 0 1,0 -3.4,0 M854.2,606.9a1.6,1.6 0 1,0 3.2,0a1.6,1.6 0 1,0 -3.2,0 M820.2,616.6a1.6,1.6 0 1,0 3.2,0a1.6,1.6 0 1,0 -3.2,0 M820.5,604.4a1.8,1.8 0 1,0 3.6,0a1.8,1.8 0 1,0 -3.6,0 M828.6,623.2a2.4,2.4 0 1,0 4.8,0a2.4,2.4 0 1,0 -4.8,0 M832.5,624.7a2.0,2.0 0 1,0 4.0,0a2.0,2.0 0 1,0 -4.0,0 M877.9,543.6a1.7,1.7 0 1,0 3.4,0a1.7,1.7 0 1,0 -3.4,0 M874.6,539.5a2.0,2.0 0 1,0 4.0,0a2.0,2.0 0 1,0 -4.0,0 M870.3,545.6a2.2,2.2 0 1,0 4.4,0a2.2,2.2 0 1,0 -4.4,0 M911.5,761.4a1.5,1.5 0 1,0 3.0,0a1.5,1.5 0 1,0 -3.0,0 M939.2,773.3a1.7,1.7 0 1,0 3.4,0a1.7,1.7 0 1,0 -3.4,0 M942.2,795.8a2.2,2.2 0 1,0 4.4,0a2.2,2.2 0 1,0 -4.4,0 M948.0,792.8a2.0,2.0 0 1,0 4.0,0a2.0,2.0 0 1,0 -4.0,0 M939.4,834.6a1.5,1.5 0 1,0 3.0,0a1.5,1.5 0 1,0 -3.0,0 M967.6,860.0a3.4,3.4 0 1,0 6.8,0a3.4,3.4 0 1,0 -6.8,0 M965.4,858.5a2.0,2.0 0 1,0 4.0,0a2.0,2.0 0 1,0 -4.0,0 M972.0,861.6a2.0,2.0 0 1,0 4.0,0a2.0,2.0 0 1,0 -4.0,0 M985.1,846.2a1.6,1.6 0 1,0 3.2,0a1.6,1.6 0 1,0 -3.2,0 M1008.4,883.4a2.6,2.6 0 1,0 5.2,0a2.6,2.6 0 1,0 -5.2,0 M1006.6,886.9a2.4,2.4 0 1,0 4.8,0a2.4,2.4 0 1,0 -4.8,0 M1012.5,887.9a2.0,2.0 0 1,0 4.0,0a2.0,2.0 0 1,0 -4.0,0 M1014.8,892.0a2.8,2.8 0 1,0 5.6,0a2.8,2.8 0 1,0 -5.6,0 M1013.4,892.5a2.2,2.2 0 1,0 4.4,0a2.2,2.2 0 1,0 -4.4,0 M993.9,888.9a2.4,2.4 0 1,0 4.8,0a2.4,2.4 0 1,0 -4.8,0 M996.5,891.0a2.8,2.8 0 1,0 5.6,0a2.8,2.8 0 1,0 -5.6,0 M999.8,893.0a2.6,2.6 0 1,0 5.2,0a2.6,2.6 0 1,0 -5.2,0 M1002.0,895.5a2.4,2.4 0 1,0 4.8,0a2.4,2.4 0 1,0 -4.8,0 M998.2,895.0a2.2,2.2 0 1,0 4.4,0a2.2,2.2 0 1,0 -4.4,0 M995.3,893.0a2.0,2.0 0 1,0 4.0,0a2.0,2.0 0 1,0 -4.0,0 M987.4,896.5a1.8,1.8 0 1,0 3.6,0a1.8,1.8 0 1,0 -3.6,0 M991.7,899.6a1.6,1.6 0 1,0 3.2,0a1.6,1.6 0 1,0 -3.2,0 M995.9,898.1a1.4,1.4 0 1,0 2.8,0a1.4,1.4 0 1,0 -2.8,0 M974.4,898.1a2.6,2.6 0 1,0 5.2,0a2.6,2.6 0 1,0 -5.2,0 M977.3,900.1a2.8,2.8 0 1,0 5.6,0a2.8,2.8 0 1,0 -5.6,0 M979.4,901.1a2.2,2.2 0 1,0 4.4,0a2.2,2.2 0 1,0 -4.4,0 M974.6,892.0a1.4,1.4 0 1,0 2.8,0a1.4,1.4 0 1,0 -2.8,0 M986.6,904.6a2.6,2.6 0 1,0 5.2,0a2.6,2.6 0 1,0 -5.2,0 M985.8,908.2a2.4,2.4 0 1,0 4.8,0a2.4,2.4 0 1,0 -4.8,0 M988.4,910.2a2.8,2.8 0 1,0 5.6,0a2.8,2.8 0 1,0 -5.6,0 M992.9,907.2a2.4,2.4 0 1,0 4.8,0a2.4,2.4 0 1,0 -4.8,0 M994.7,910.2a2.6,2.6 0 1,0 5.2,0a2.6,2.6 0 1,0 -5.2,0 M999.0,910.2a2.4,2.4 0 1,0 4.8,0a2.4,2.4 0 1,0 -4.8,0 M991.3,906.2a2.0,2.0 0 1,0 4.0,0a2.0,2.0 0 1,0 -4.0,0 M1023.6,910.0a1.8,1.8 0 1,0 3.6,0a1.8,1.8 0 1,0 -3.6,0 M1024.2,927.1a1.5,1.5 0 1,0 3.0,0a1.5,1.5 0 1,0 -3.0,0 M1020.3,927.7a1.3,1.3 0 1,0 2.6,0a1.3,1.3 0 1,0 -2.6,0 M1014.1,929.5a2.0,2.0 0 1,0 4.0,0a2.0,2.0 0 1,0 -4.0,0 M966.3,916.3a2.6,2.6 0 1,0 5.2,0a2.6,2.6 0 1,0 -5.2,0 M969.6,917.8a2.4,2.4 0 1,0 4.8,0a2.4,2.4 0 1,0 -4.8,0 M965.6,923.4a1.8,1.8 0 1,0 3.6,0a1.8,1.8 0 1,0 -3.6,0 M967.9,926.4a2.0,2.0 0 1,0 4.0,0a2.0,2.0 0 1,0 -4.0,0 M932.6,906.2a2.4,2.4 0 1,0 4.8,0a2.4,2.4 0 1,0 -4.8,0 M948.9,900.1a1.8,1.8 0 1,0 3.6,0a1.8,1.8 0 1,0 -3.6,0 M951.3,898.6a1.4,1.4 0 1,0 2.8,0a1.4,1.4 0 1,0 -2.8,0 M956.5,901.1a1.3,1.3 0 1,0 2.6,0a1.3,1.3 0 1,0 -2.6,0 M939.7,893.5a1.4,1.4 0 1,0 2.8,0a1.4,1.4 0 1,0 -2.8,0 M949.1,920.9a2.6,2.6 0 1,0 5.2,0a2.6,2.6 0 1,0 -5.2,0 M956.2,921.4a1.6,1.6 0 1,0 3.2,0a1.6,1.6 0 1,0 -3.2,0 M1000.8,946.0a1.6,1.6 0 1,0 3.2,0a1.6,1.6 0 1,0 -3.2,0 M976.0,969.8a1.5,1.5 0 1,0 3.0,0a1.5,1.5 0 1,0 -3.0,0 M982.7,973.1a2.4,2.4 0 1,0 4.8,0a2.4,2.4 0 1,0 -4.8,0 M981.7,976.6a2.4,2.4 0 1,0 4.8,0a2.4,2.4 0 1,0 -4.8,0 M984.6,972.1a1.6,1.6 0 1,0 3.2,0a1.6,1.6 0 1,0 -3.2,0 M950.5,921.4a2.2,2.2 0 1,0 4.4,0a2.2,2.2 0 1,0 -4.4,0 M954.2,993.8a2.6,2.6 0 1,0 5.2,0a2.6,2.6 0 1,0 -5.2,0 M958.4,993.8a2.4,2.4 0 1,0 4.8,0a2.4,2.4 0 1,0 -4.8,0 M950.7,992.3a2.0,2.0 0 1,0 4.0,0a2.0,2.0 0 1,0 -4.0,0 M981.4,933.0a2.1,2.1 0 1,0 4.2,0a2.1,2.1 0 1,0 -4.2,0 M986.5,928.8a1.9,1.9 0 1,0 3.8,0a1.9,1.9 0 1,0 -3.8,0 M984.7,957.6a1.5,1.5 0 1,0 3.0,0a1.5,1.5 0 1,0 -3.0,0 M978.4,950.3a2.5,2.5 0 1,0 5.0,0a2.5,2.5 0 1,0 -5.0,0 M987.6,941.9a2.6,2.6 0 1,0 5.2,0a2.6,2.6 0 1,0 -5.2,0 M981.1,932.7a1.5,1.5 0 1,0 3.0,0a1.5,1.5 0 1,0 -3.0,0 M981.6,957.2a1.5,1.5 0 1,0 3.0,0a1.5,1.5 0 1,0 -3.0,0 M988.5,950.8a1.8,1.8 0 1,0 3.6,0a1.8,1.8 0 1,0 -3.6,0 M988.0,929.7a1.4,1.4 0 1,0 2.8,0a1.4,1.4 0 1,0 -2.8,0 M978.5,952.3a1.9,1.9 0 1,0 3.8,0a1.9,1.9 0 1,0 -3.8,0 M981.4,948.8a1.9,1.9 0 1,0 3.8,0a1.9,1.9 0 1,0 -3.8,0 M980.7,956.4a2.2,2.2 0 1,0 4.4,0a2.2,2.2 0 1,0 -4.4,0 M979.4,948.4a2.0,2.0 0 1,0 4.0,0a2.0,2.0 0 1,0 -4.0,0 M993.1,933.0a1.9,1.9 0 1,0 3.8,0a1.9,1.9 0 1,0 -3.8,0 M973.7,951.8a2.3,2.3 0 1,0 4.6,0a2.3,2.3 0 1,0 -4.6,0 M981.2,952.8a2.1,2.1 0 1,0 4.2,0a2.1,2.1 0 1,0 -4.2,0 M987.9,944.1a2.4,2.4 0 1,0 4.8,0a2.4,2.4 0 1,0 -4.8,0 M990.3,929.7a2.2,2.2 0 1,0 4.4,0a2.2,2.2 0 1,0 -4.4,0 M994.9,937.8a1.8,1.8 0 1,0 3.6,0a1.8,1.8 0 1,0 -3.6,0 M985.7,933.6a1.5,1.5 0 1,0 3.0,0a1.5,1.5 0 1,0 -3.0,0 M975.1,955.5a1.5,1.5 0 1,0 3.0,0a1.5,1.5 0 1,0 -3.0,0 M979.1,941.7a2.4,2.4 0 1,0 4.8,0a2.4,2.4 0 1,0 -4.8,0 M980.6,942.6a1.8,1.8 0 1,0 3.6,0a1.8,1.8 0 1,0 -3.6,0 M977.4,933.9a1.6,1.6 0 1,0 3.2,0a1.6,1.6 0 1,0 -3.2,0 M979.1,945.1a2.1,2.1 0 1,0 4.2,0a2.1,2.1 0 1,0 -4.2,0 M984.1,940.9a2.0,2.0 0 1,0 4.0,0a2.0,2.0 0 1,0 -4.0,0 M986.4,950.0a2.2,2.2 0 1,0 4.4,0a2.2,2.2 0 1,0 -4.4,0 M994.2,941.8a1.8,1.8 0 1,0 3.6,0a1.8,1.8 0 1,0 -3.6,0 M976.3,950.6a1.4,1.4 0 1,0 2.8,0a1.4,1.4 0 1,0 -2.8,0 M977.1,936.7a1.8,1.8 0 1,0 3.6,0a1.8,1.8 0 1,0 -3.6,0 M982.2,931.9a2.4,2.4 0 1,0 4.8,0a2.4,2.4 0 1,0 -4.8,0 M986.4,930.6a1.4,1.4 0 1,0 2.8,0a1.4,1.4 0 1,0 -2.8,0 M981.6,937.1a2.4,2.4 0 1,0 4.8,0a2.4,2.4 0 1,0 -4.8,0 M977.6,947.3a1.3,1.3 0 1,0 2.6,0a1.3,1.3 0 1,0 -2.6,0 M980.4,940.8a1.5,1.5 0 1,0 3.0,0a1.5,1.5 0 1,0 -3.0,0 M993.1,946.9a2.3,2.3 0 1,0 4.6,0a2.3,2.3 0 1,0 -4.6,0 M981.3,935.6a2.4,2.4 0 1,0 4.8,0a2.4,2.4 0 1,0 -4.8,0 M992.5,935.7a2.0,2.0 0 1,0 4.0,0a2.0,2.0 0 1,0 -4.0,0 M979.3,952.7a2.5,2.5 0 1,0 5.0,0a2.5,2.5 0 1,0 -5.0,0 M984.2,961.6a2.6,2.6 0 1,0 5.2,0a2.6,2.6 0 1,0 -5.2,0 M998.6,940.8a1.6,1.6 0 1,0 3.2,0a1.6,1.6 0 1,0 -3.2,0 M979.4,934.6a1.6,1.6 0 1,0 3.2,0a1.6,1.6 0 1,0 -3.2,0 M995.1,944.9a2.1,2.1 0 1,0 4.2,0a2.1,2.1 0 1,0 -4.2,0 M985.3,934.0a2.3,2.3 0 1,0 4.6,0a2.3,2.3 0 1,0 -4.6,0 M981.2,956.7a2.6,2.6 0 1,0 5.2,0a2.6,2.6 0 1,0 -5.2,0 M982.9,942.1a2.5,2.5 0 1,0 5.0,0a2.5,2.5 0 1,0 -5.0,0 M992.6,933.7a1.5,1.5 0 1,0 3.0,0a1.5,1.5 0 1,0 -3.0,0 M976.7,960.5a2.3,2.3 0 1,0 4.6,0a2.3,2.3 0 1,0 -4.6,0 M976.3,957.6a2.6,2.6 0 1,0 5.2,0a2.6,2.6 0 1,0 -5.2,0 M990.3,940.2a2.0,2.0 0 1,0 4.0,0a2.0,2.0 0 1,0 -4.0,0 M984.0,959.3a2.4,2.4 0 1,0 4.8,0a2.4,2.4 0 1,0 -4.8,0 M978.9,936.6a1.7,1.7 0 1,0 3.4,0a1.7,1.7 0 1,0 -3.4,0 M979.8,948.9a1.6,1.6 0 1,0 3.2,0a1.6,1.6 0 1,0 -3.2,0 M983.6,932.2a2.5,2.5 0 1,0 5.0,0a2.5,2.5 0 1,0 -5.0,0 M982.2,944.2a2.1,2.1 0 1,0 4.2,0a2.1,2.1 0 1,0 -4.2,0 M996.3,942.8a2.5,2.5 0 1,0 5.0,0a2.5,2.5 0 1,0 -5.0,0 M986.2,946.9a2.0,2.0 0 1,0 4.0,0a2.0,2.0 0 1,0 -4.0,0 M994.2,933.7a1.9,1.9 0 1,0 3.8,0a1.9,1.9 0 1,0 -3.8,0 M992.4,947.8a1.7,1.7 0 1,0 3.4,0a1.7,1.7 0 1,0 -3.4,0 M986.4,947.7a2.3,2.3 0 1,0 4.6,0a2.3,2.3 0 1,0 -4.6,0 M979.3,937.6a2.3,2.3 0 1,0 4.6,0a2.3,2.3 0 1,0 -4.6,0 M986.1,947.9a2.3,2.3 0 1,0 4.6,0a2.3,2.3 0 1,0 -4.6,0 M997.0,943.6a2.1,2.1 0 1,0 4.2,0a2.1,2.1 0 1,0 -4.2,0 M986.1,946.1a2.2,2.2 0 1,0 4.4,0a2.2,2.2 0 1,0 -4.4,0 M985.0,946.9a1.9,1.9 0 1,0 3.8,0a1.9,1.9 0 1,0 -3.8,0 M979.4,947.9a2.5,2.5 0 1,0 5.0,0a2.5,2.5 0 1,0 -5.0,0 M995.7,932.5a1.5,1.5 0 1,0 3.0,0a1.5,1.5 0 1,0 -3.0,0 M985.1,930.1a1.6,1.6 0 1,0 3.2,0a1.6,1.6 0 1,0 -3.2,0 M974.6,951.9a2.3,2.3 0 1,0 4.6,0a2.3,2.3 0 1,0 -4.6,0 M996.5,933.1a2.2,2.2 0 1,0 4.4,0a2.2,2.2 0 1,0 -4.4,0 M980.0,927.7a2.3,2.3 0 1,0 4.6,0a2.3,2.3 0 1,0 -4.6,0 M985.0,928.0a1.8,1.8 0 1,0 3.6,0a1.8,1.8 0 1,0 -3.6,0 M977.0,930.9a1.5,1.5 0 1,0 3.0,0a1.5,1.5 0 1,0 -3.0,0 M972.0,937.1a1.3,1.3 0 1,0 2.6,0a1.3,1.3 0 1,0 -2.6,0 M978.2,932.6a1.3,1.3 0 1,0 2.6,0a1.3,1.3 0 1,0 -2.6,0 M971.7,935.5a1.9,1.9 0 1,0 3.8,0a1.9,1.9 0 1,0 -3.8,0 M966.3,929.7a1.3,1.3 0 1,0 2.6,0a1.3,1.3 0 1,0 -2.6,0 M984.0,929.8a1.4,1.4 0 1,0 2.8,0a1.4,1.4 0 1,0 -2.8,0 M985.0,929.6a1.5,1.5 0 1,0 3.0,0a1.5,1.5 0 1,0 -3.0,0 M981.9,926.9a1.4,1.4 0 1,0 2.8,0a1.4,1.4 0 1,0 -2.8,0 M981.6,932.3a1.4,1.4 0 1,0 2.8,0a1.4,1.4 0 1,0 -2.8,0 M983.8,926.8a2.2,2.2 0 1,0 4.4,0a2.2,2.2 0 1,0 -4.4,0 M974.9,930.9a1.9,1.9 0 1,0 3.8,0a1.9,1.9 0 1,0 -3.8,0 M987.9,929.8a1.4,1.4 0 1,0 2.8,0a1.4,1.4 0 1,0 -2.8,0 M977.4,929.3a1.4,1.4 0 1,0 2.8,0a1.4,1.4 0 1,0 -2.8,0 M968.6,930.5a1.6,1.6 0 1,0 3.2,0a1.6,1.6 0 1,0 -3.2,0 M983.0,930.1a1.9,1.9 0 1,0 3.8,0a1.9,1.9 0 1,0 -3.8,0 M968.3,931.1a1.3,1.3 0 1,0 2.6,0a1.3,1.3 0 1,0 -2.6,0 M982.7,934.4a1.5,1.5 0 1,0 3.0,0a1.5,1.5 0 1,0 -3.0,0 M974.1,933.5a2.2,2.2 0 1,0 4.4,0a2.2,2.2 0 1,0 -4.4,0 M973.1,933.6a2.1,2.1 0 1,0 4.2,0a2.1,2.1 0 1,0 -4.2,0 M979.9,932.0a1.7,1.7 0 1,0 3.4,0a1.7,1.7 0 1,0 -3.4,0 M968.0,986.9a1.6,1.6 0 1,0 3.2,0a1.6,1.6 0 1,0 -3.2,0 M968.2,966.6a2.2,2.2 0 1,0 4.4,0a2.2,2.2 0 1,0 -4.4,0 M975.3,984.7a1.6,1.6 0 1,0 3.2,0a1.6,1.6 0 1,0 -3.2,0 M969.3,973.0a1.8,1.8 0 1,0 3.6,0a1.8,1.8 0 1,0 -3.6,0 M968.8,977.8a1.6,1.6 0 1,0 3.2,0a1.6,1.6 0 1,0 -3.2,0 M975.8,994.1a1.9,1.9 0 1,0 3.8,0a1.9,1.9 0 1,0 -3.8,0 M969.6,993.9a1.6,1.6 0 1,0 3.2,0a1.6,1.6 0 1,0 -3.2,0 M970.5,964.0a1.7,1.7 0 1,0 3.4,0a1.7,1.7 0 1,0 -3.4,0 M971.8,979.5a1.5,1.5 0 1,0 3.0,0a1.5,1.5 0 1,0 -3.0,0 M971.9,964.1a1.6,1.6 0 1,0 3.2,0a1.6,1.6 0 1,0 -3.2,0 M968.4,976.3a1.3,1.3 0 1,0 2.6,0a1.3,1.3 0 1,0 -2.6,0 M969.2,982.1a1.9,1.9 0 1,0 3.8,0a1.9,1.9 0 1,0 -3.8,0 M973.7,984.3a2.1,2.1 0 1,0 4.2,0a2.1,2.1 0 1,0 -4.2,0 M970.4,994.5a1.5,1.5 0 1,0 3.0,0a1.5,1.5 0 1,0 -3.0,0 M974.2,983.9a1.3,1.3 0 1,0 2.6,0a1.3,1.3 0 1,0 -2.6,0 M974.6,991.6a2.0,2.0 0 1,0 4.0,0a2.0,2.0 0 1,0 -4.0,0 M974.1,989.1a1.5,1.5 0 1,0 3.0,0a1.5,1.5 0 1,0 -3.0,0 M971.5,979.6a2.2,2.2 0 1,0 4.4,0a2.2,2.2 0 1,0 -4.4,0 M974.4,989.6a1.9,1.9 0 1,0 3.8,0a1.9,1.9 0 1,0 -3.8,0 M975.0,985.1a2.1,2.1 0 1,0 4.2,0a2.1,2.1 0 1,0 -4.2,0 M969.6,964.9a1.4,1.4 0 1,0 2.8,0a1.4,1.4 0 1,0 -2.8,0 M970.0,967.2a2.2,2.2 0 1,0 4.4,0a2.2,2.2 0 1,0 -4.4,0 M972.0,983.4a2.0,2.0 0 1,0 4.0,0a2.0,2.0 0 1,0 -4.0,0 M973.8,979.1a1.3,1.3 0 1,0 2.6,0a1.3,1.3 0 1,0 -2.6,0 M974.3,987.2a1.9,1.9 0 1,0 3.8,0a1.9,1.9 0 1,0 -3.8,0 M972.4,984.4a1.4,1.4 0 1,0 2.8,0a1.4,1.4 0 1,0 -2.8,0 M974.3,971.8a1.4,1.4 0 1,0 2.8,0a1.4,1.4 0 1,0 -2.8,0 M969.9,986.6a1.5,1.5 0 1,0 3.0,0a1.5,1.5 0 1,0 -3.0,0 M973.9,994.2a1.8,1.8 0 1,0 3.6,0a1.8,1.8 0 1,0 -3.6,0 M970.3,978.8a2.1,2.1 0 1,0 4.2,0a2.1,2.1 0 1,0 -4.2,0 M974.2,981.3a2.2,2.2 0 1,0 4.4,0a2.2,2.2 0 1,0 -4.4,0 M968.0,965.1a1.7,1.7 0 1,0 3.4,0a1.7,1.7 0 1,0 -3.4,0 M974.0,970.5a2.1,2.1 0 1,0 4.2,0a2.1,2.1 0 1,0 -4.2,0 M967.4,962.1a1.7,1.7 0 1,0 3.4,0a1.7,1.7 0 1,0 -3.4,0 M973.2,983.9a2.2,2.2 0 1,0 4.4,0a2.2,2.2 0 1,0 -4.4,0 M969.8,977.8a2.0,2.0 0 1,0 4.0,0a2.0,2.0 0 1,0 -4.0,0 M971.0,964.1a2.5,2.5 0 1,0 5.0,0a2.5,2.5 0 1,0 -5.0,0 M968.4,993.7a2.5,2.5 0 1,0 5.0,0a2.5,2.5 0 1,0 -5.0,0 M975.0,993.4a1.9,1.9 0 1,0 3.8,0a1.9,1.9 0 1,0 -3.8,0 M969.1,967.2a2.5,2.5 0 1,0 5.0,0a2.5,2.5 0 1,0 -5.0,0 M969.4,980.0a1.6,1.6 0 1,0 3.2,0a1.6,1.6 0 1,0 -3.2,0 M972.4,992.8a1.6,1.6 0 1,0 3.2,0a1.6,1.6 0 1,0 -3.2,0 M974.4,977.5a2.5,2.5 0 1,0 5.0,0a2.5,2.5 0 1,0 -5.0,0 M973.2,968.0a2.5,2.5 0 1,0 5.0,0a2.5,2.5 0 1,0 -5.0,0 M972.3,960.9a1.4,1.4 0 1,0 2.8,0a1.4,1.4 0 1,0 -2.8,0 M971.9,975.5a1.8,1.8 0 1,0 3.6,0a1.8,1.8 0 1,0 -3.6,0 M968.5,971.9a1.8,1.8 0 1,0 3.6,0a1.8,1.8 0 1,0 -3.6,0 M974.8,960.1a2.3,2.3 0 1,0 4.6,0a2.3,2.3 0 1,0 -4.6,0 M974.6,964.1a2.5,2.5 0 1,0 5.0,0a2.5,2.5 0 1,0 -5.0,0 M974.1,991.1a1.7,1.7 0 1,0 3.4,0a1.7,1.7 0 1,0 -3.4,0 M970.0,973.5a2.6,2.6 0 1,0 5.2,0a2.6,2.6 0 1,0 -5.2,0 M972.7,972.4a1.9,1.9 0 1,0 3.8,0a1.9,1.9 0 1,0 -3.8,0 M970.1,961.7a1.5,1.5 0 1,0 3.0,0a1.5,1.5 0 1,0 -3.0,0 M974.5,969.8a2.5,2.5 0 1,0 5.0,0a2.5,2.5 0 1,0 -5.0,0 M969.4,969.2a2.0,2.0 0 1,0 4.0,0a2.0,2.0 0 1,0 -4.0,0 M968.3,972.9a2.5,2.5 0 1,0 5.0,0a2.5,2.5 0 1,0 -5.0,0 M975.3,988.0a2.2,2.2 0 1,0 4.4,0a2.2,2.2 0 1,0 -4.4,0 M975.7,992.4a2.1,2.1 0 1,0 4.2,0a2.1,2.1 0 1,0 -4.2,0 M973.6,961.7a2.3,2.3 0 1,0 4.6,0a2.3,2.3 0 1,0 -4.6,0 M971.1,985.9a2.2,2.2 0 1,0 4.4,0a2.2,2.2 0 1,0 -4.4,0 M969.2,961.7a2.5,2.5 0 1,0 5.0,0a2.5,2.5 0 1,0 -5.0,0 M968.4,976.3a1.8,1.8 0 1,0 3.6,0a1.8,1.8 0 1,0 -3.6,0 M969.2,985.5a2.6,2.6 0 1,0 5.2,0a2.6,2.6 0 1,0 -5.2,0 M969.7,982.6a1.8,1.8 0 1,0 3.6,0a1.8,1.8 0 1,0 -3.6,0 M972.7,973.6a1.6,1.6 0 1,0 3.2,0a1.6,1.6 0 1,0 -3.2,0 M968.0,967.2a2.5,2.5 0 1,0 5.0,0a2.5,2.5 0 1,0 -5.0,0 M971.3,967.6a2.5,2.5 0 1,0 5.0,0a2.5,2.5 0 1,0 -5.0,0 M968.8,966.6a1.5,1.5 0 1,0 3.0,0a1.5,1.5 0 1,0 -3.0,0 M961.3,1012.2a1.7,1.7 0 1,0 3.4,0a1.7,1.7 0 1,0 -3.4,0 M959.5,1020.2a2.5,2.5 0 1,0 5.0,0a2.5,2.5 0 1,0 -5.0,0 M966.1,1017.6a1.9,1.9 0 1,0 3.8,0a1.9,1.9 0 1,0 -3.8,0 M963.4,1017.0a1.8,1.8 0 1,0 3.6,0a1.8,1.8 0 1,0 -3.6,0 M957.0,1015.3a2.6,2.6 0 1,0 5.2,0a2.6,2.6 0 1,0 -5.2,0 M958.2,1019.1a2.2,2.2 0 1,0 4.4,0a2.2,2.2 0 1,0 -4.4,0 M960.2,1014.8a1.9,1.9 0 1,0 3.8,0a1.9,1.9 0 1,0 -3.8,0 M961.9,1026.6a2.4,2.4 0 1,0 4.8,0a2.4,2.4 0 1,0 -4.8,0 M956.7,1022.6a2.5,2.5 0 1,0 5.0,0a2.5,2.5 0 1,0 -5.0,0 M963.2,1020.5a1.4,1.4 0 1,0 2.8,0a1.4,1.4 0 1,0 -2.8,0 M961.2,1026.2a2.4,2.4 0 1,0 4.8,0a2.4,2.4 0 1,0 -4.8,0 M960.3,1012.5a1.6,1.6 0 1,0 3.2,0a1.6,1.6 0 1,0 -3.2,0 M962.7,1022.1a2.5,2.5 0 1,0 5.0,0a2.5,2.5 0 1,0 -5.0,0 M965.3,1021.5a2.3,2.3 0 1,0 4.6,0a2.3,2.3 0 1,0 -4.6,0 M963.0,1019.9a1.4,1.4 0 1,0 2.8,0a1.4,1.4 0 1,0 -2.8,0 M965.9,1014.6a2.5,2.5 0 1,0 5.0,0a2.5,2.5 0 1,0 -5.0,0 M926.5,1064.4a1.7,1.7 0 1,0 3.4,0a1.7,1.7 0 1,0 -3.4,0 M919.5,1068.7a2.4,2.4 0 1,0 4.8,0a2.4,2.4 0 1,0 -4.8,0 M924.3,1068.0a2.0,2.0 0 1,0 4.0,0a2.0,2.0 0 1,0 -4.0,0 M919.9,1068.3a1.5,1.5 0 1,0 3.0,0a1.5,1.5 0 1,0 -3.0,0 M920.0,1066.4a2.7,2.7 0 1,0 5.4,0a2.7,2.7 0 1,0 -5.4,0 M926.1,1072.0a2.1,2.1 0 1,0 4.2,0a2.1,2.1 0 1,0 -4.2,0 M918.9,1063.6a2.7,2.7 0 1,0 5.4,0a2.7,2.7 0 1,0 -5.4,0 M927.7,1064.4a1.5,1.5 0 1,0 3.0,0a1.5,1.5 0 1,0 -3.0,0 M923.9,1069.2a2.0,2.0 0 1,0 4.0,0a2.0,2.0 0 1,0 -4.0,0 M919.3,1069.1a2.7,2.7 0 1,0 5.4,0a2.7,2.7 0 1,0 -5.4,0 M920.9,1065.9a2.4,2.4 0 1,0 4.8,0a2.4,2.4 0 1,0 -4.8,0 M928.0,1067.0a1.8,1.8 0 1,0 3.6,0a1.8,1.8 0 1,0 -3.6,0 M930.9,1064.5a2.6,2.6 0 1,0 5.2,0a2.6,2.6 0 1,0 -5.2,0 M919.0,1063.3a2.5,2.5 0 1,0 5.0,0a2.5,2.5 0 1,0 -5.0,0 M924.0,1062.8a1.8,1.8 0 1,0 3.6,0a1.8,1.8 0 1,0 -3.6,0 M921.8,1069.1a2.7,2.7 0 1,0 5.4,0a2.7,2.7 0 1,0 -5.4,0 M918.4,1065.5a1.8,1.8 0 1,0 3.6,0a1.8,1.8 0 1,0 -3.6,0 M932.0,1062.2a1.6,1.6 0 1,0 3.2,0a1.6,1.6 0 1,0 -3.2,0 M964.9,995.0a1.8,1.8 0 1,0 3.6,0a1.8,1.8 0 1,0 -3.6,0 M957.6,992.5a1.4,1.4 0 1,0 2.8,0a1.4,1.4 0 1,0 -2.8,0 M955.3,994.7a2.5,2.5 0 1,0 5.0,0a2.5,2.5 0 1,0 -5.0,0 M953.7,994.7a2.4,2.4 0 1,0 4.8,0a2.4,2.4 0 1,0 -4.8,0 M968.9,995.7a1.5,1.5 0 1,0 3.0,0a1.5,1.5 0 1,0 -3.0,0 M959.8,994.9a2.5,2.5 0 1,0 5.0,0a2.5,2.5 0 1,0 -5.0,0 M953.2,994.8a2.5,2.5 0 1,0 5.0,0a2.5,2.5 0 1,0 -5.0,0 M968.8,999.7a1.4,1.4 0 1,0 2.8,0a1.4,1.4 0 1,0 -2.8,0 M966.9,1001.3a1.8,1.8 0 1,0 3.6,0a1.8,1.8 0 1,0 -3.6,0 M963.3,993.6a2.3,2.3 0 1,0 4.6,0a2.3,2.3 0 1,0 -4.6,0 M957.2,993.8a1.4,1.4 0 1,0 2.8,0a1.4,1.4 0 1,0 -2.8,0 M966.6,1001.6a2.2,2.2 0 1,0 4.4,0a2.2,2.2 0 1,0 -4.4,0 M954.2,996.2a2.5,2.5 0 1,0 5.0,0a2.5,2.5 0 1,0 -5.0,0 M955.1,995.6a2.0,2.0 0 1,0 4.0,0a2.0,2.0 0 1,0 -4.0,0 M982.7,974.2a3.0,3.0 0 1,0 6.0,0a3.0,3.0 0 1,0 -6.0,0 M982.5,977.2a2.2,2.2 0 1,0 4.4,0a2.2,2.2 0 1,0 -4.4,0 M976.5,970.1a1.6,1.6 0 1,0 3.2,0a1.6,1.6 0 1,0 -3.2,0 M981.1,961.0a2.6,2.6 0 1,0 5.2,0a2.6,2.6 0 1,0 -5.2,0 M984.8,1009.7a2.4,2.4 0 1,0 4.8,0a2.4,2.4 0 1,0 -4.8,0 M983.9,1011.2a1.8,1.8 0 1,0 3.6,0a1.8,1.8 0 1,0 -3.6,0 M964.7,1033.0a2.8,2.8 0 1,0 5.6,0a2.8,2.8 0 1,0 -5.6,0 M965.5,1037.0a3.0,3.0 0 1,0 6.0,0a3.0,3.0 0 1,0 -6.0,0 M964.0,1038.6a2.4,2.4 0 1,0 4.8,0a2.4,2.4 0 1,0 -4.8,0 M967.2,1031.0a1.8,1.8 0 1,0 3.6,0a1.8,1.8 0 1,0 -3.6,0 M952.7,1041.1a2.6,2.6 0 1,0 5.2,0a2.6,2.6 0 1,0 -5.2,0 M951.7,1047.2a2.6,2.6 0 1,0 5.2,0a2.6,2.6 0 1,0 -5.2,0 M954.1,1049.2a2.2,2.2 0 1,0 4.4,0a2.2,2.2 0 1,0 -4.4,0 M952.8,1051.7a2.0,2.0 0 1,0 4.0,0a2.0,2.0 0 1,0 -4.0,0 M955.5,1045.1a1.8,1.8 0 1,0 3.6,0a1.8,1.8 0 1,0 -3.6,0 M943.6,1058.8a2.6,2.6 0 1,0 5.2,0a2.6,2.6 0 1,0 -5.2,0 M943.1,1057.3a2.0,2.0 0 1,0 4.0,0a2.0,2.0 0 1,0 -4.0,0 M938.3,1061.9a1.8,1.8 0 1,0 3.6,0a1.8,1.8 0 1,0 -3.6,0 M933.4,1057.8a2.6,2.6 0 1,0 5.2,0a2.6,2.6 0 1,0 -5.2,0 M922.5,1079.6a2.4,2.4 0 1,0 4.8,0a2.4,2.4 0 1,0 -4.8,0 M924.2,1082.7a2.2,2.2 0 1,0 4.4,0a2.2,2.2 0 1,0 -4.4,0 M926.3,1088.7a2.6,2.6 0 1,0 5.2,0a2.6,2.6 0 1,0 -5.2,0 M923.9,1089.2a2.0,2.0 0 1,0 4.0,0a2.0,2.0 0 1,0 -4.0,0 M919.0,1087.7a1.8,1.8 0 1,0 3.6,0a1.8,1.8 0 1,0 -3.6,0 M914.8,1087.2a2.0,2.0 0 1,0 4.0,0a2.0,2.0 0 1,0 -4.0,0 M910.5,1085.7a2.2,2.2 0 1,0 4.4,0a2.2,2.2 0 1,0 -4.4,0 M905.6,1085.7a2.0,2.0 0 1,0 4.0,0a2.0,2.0 0 1,0 -4.0,0 M908.1,1083.7a1.6,1.6 0 1,0 3.2,0a1.6,1.6 0 1,0 -3.2,0 M920.8,1076.6a2.0,2.0 0 1,0 4.0,0a2.0,2.0 0 1,0 -4.0,0 M919.0,1074.5a1.8,1.8 0 1,0 3.6,0a1.8,1.8 0 1,0 -3.6,0 M918.7,1099.1a3.6,3.6 0 1,0 7.2,0a3.6,3.6 0 1,0 -7.2,0 M901.3,1092.3a1.8,1.8 0 1,0 3.6,0a1.8,1.8 0 1,0 -3.6,0 M900.0,1093.8a1.6,1.6 0 1,0 3.2,0a1.6,1.6 0 1,0 -3.2,0 M907.2,1124.7a2.0,2.0 0 1,0 4.0,0a2.0,2.0 0 1,0 -4.0,0 M899.1,1128.8a2.0,2.0 0 1,0 4.0,0a2.0,2.0 0 1,0 -4.0,0 M899.0,1132.3a1.5,1.5 0 1,0 3.0,0a1.5,1.5 0 1,0 -3.0,0 M886.4,1129.3a2.0,2.0 0 1,0 4.0,0a2.0,2.0 0 1,0 -4.0,0 M879.0,1131.3a2.8,2.8 0 1,0 5.6,0a2.8,2.8 0 1,0 -5.6,0 M867.7,1133.3a2.4,2.4 0 1,0 4.8,0a2.4,2.4 0 1,0 -4.8,0 M876.2,1132.3a2.0,2.0 0 1,0 4.0,0a2.0,2.0 0 1,0 -4.0,0 M867.6,1138.3a2.5,2.5 0 1,0 5.0,0a2.5,2.5 0 1,0 -5.0,0 M861.3,1155.8a2.5,2.5 0 1,0 5.0,0a2.5,2.5 0 1,0 -5.0,0 M857.6,1142.3a1.8,1.8 0 1,0 3.6,0a1.8,1.8 0 1,0 -3.6,0 M862.8,1140.1a1.5,1.5 0 1,0 3.0,0a1.5,1.5 0 1,0 -3.0,0 M839.9,1147.0a2.4,2.4 0 1,0 4.8,0a2.4,2.4 0 1,0 -4.8,0 M850.7,1150.3a2.3,2.3 0 1,0 4.6,0a2.3,2.3 0 1,0 -4.6,0 M861.8,1156.5a2.3,2.3 0 1,0 4.6,0a2.3,2.3 0 1,0 -4.6,0 M847.0,1148.8a1.9,1.9 0 1,0 3.8,0a1.9,1.9 0 1,0 -3.8,0 M862.1,1138.8a1.7,1.7 0 1,0 3.4,0a1.7,1.7 0 1,0 -3.4,0 M866.7,1149.1a1.9,1.9 0 1,0 3.8,0a1.9,1.9 0 1,0 -3.8,0 M863.3,1151.2a2.8,2.8 0 1,0 5.6,0a2.8,2.8 0 1,0 -5.6,0 M840.0,1146.3a2.5,2.5 0 1,0 5.0,0a2.5,2.5 0 1,0 -5.0,0 M865.7,1158.3a1.5,1.5 0 1,0 3.0,0a1.5,1.5 0 1,0 -3.0,0 M863.6,1159.2a1.5,1.5 0 1,0 3.0,0a1.5,1.5 0 1,0 -3.0,0 M857.3,1150.3a1.7,1.7 0 1,0 3.4,0a1.7,1.7 0 1,0 -3.4,0 M857.4,1151.1a1.7,1.7 0 1,0 3.4,0a1.7,1.7 0 1,0 -3.4,0 M860.0,1138.4a1.8,1.8 0 1,0 3.6,0a1.8,1.8 0 1,0 -3.6,0 M856.0,1150.8a1.5,1.5 0 1,0 3.0,0a1.5,1.5 0 1,0 -3.0,0 M842.5,1152.3a2.0,2.0 0 1,0 4.0,0a2.0,2.0 0 1,0 -4.0,0 M868.8,1141.9a2.2,2.2 0 1,0 4.4,0a2.2,2.2 0 1,0 -4.4,0 M848.4,1144.7a2.6,2.6 0 1,0 5.2,0a2.6,2.6 0 1,0 -5.2,0 M866.7,1144.9a2.5,2.5 0 1,0 5.0,0a2.5,2.5 0 1,0 -5.0,0 M859.0,1158.2a1.5,1.5 0 1,0 3.0,0a1.5,1.5 0 1,0 -3.0,0 M857.8,1143.5a2.1,2.1 0 1,0 4.2,0a2.1,2.1 0 1,0 -4.2,0 M840.2,1146.7a2.5,2.5 0 1,0 5.0,0a2.5,2.5 0 1,0 -5.0,0 M869.8,1138.7a1.6,1.6 0 1,0 3.2,0a1.6,1.6 0 1,0 -3.2,0 M867.3,1143.9a2.7,2.7 0 1,0 5.4,0a2.7,2.7 0 1,0 -5.4,0 M858.2,1155.9a1.6,1.6 0 1,0 3.2,0a1.6,1.6 0 1,0 -3.2,0 M863.4,1139.4a2.0,2.0 0 1,0 4.0,0a2.0,2.0 0 1,0 -4.0,0 M865.7,1156.0a1.7,1.7 0 1,0 3.4,0a1.7,1.7 0 1,0 -3.4,0 M844.3,1144.3a2.1,2.1 0 1,0 4.2,0a2.1,2.1 0 1,0 -4.2,0 M856.4,1154.0a1.5,1.5 0 1,0 3.0,0a1.5,1.5 0 1,0 -3.0,0 M864.9,1136.5a2.2,2.2 0 1,0 4.4,0a2.2,2.2 0 1,0 -4.4,0 M855.7,1150.5a1.8,1.8 0 1,0 3.6,0a1.8,1.8 0 1,0 -3.6,0 M851.1,1149.3a2.0,2.0 0 1,0 4.0,0a2.0,2.0 0 1,0 -4.0,0 M859.1,1145.5a2.0,2.0 0 1,0 4.0,0a2.0,2.0 0 1,0 -4.0,0 M828.5,1228.9a2.1,2.1 0 1,0 4.2,0a2.1,2.1 0 1,0 -4.2,0 M833.9,1234.2a2.5,2.5 0 1,0 5.0,0a2.5,2.5 0 1,0 -5.0,0 M840.4,1212.9a2.1,2.1 0 1,0 4.2,0a2.1,2.1 0 1,0 -4.2,0 M830.9,1211.0a2.0,2.0 0 1,0 4.0,0a2.0,2.0 0 1,0 -4.0,0 M830.4,1222.4a2.1,2.1 0 1,0 4.2,0a2.1,2.1 0 1,0 -4.2,0 M829.6,1229.5a1.5,1.5 0 1,0 3.0,0a1.5,1.5 0 1,0 -3.0,0 M841.8,1208.3a2.1,2.1 0 1,0 4.2,0a2.1,2.1 0 1,0 -4.2,0 M838.7,1241.0a1.6,1.6 0 1,0 3.2,0a1.6,1.6 0 1,0 -3.2,0 M833.1,1242.1a2.1,2.1 0 1,0 4.2,0a2.1,2.1 0 1,0 -4.2,0 M831.8,1235.1a2.7,2.7 0 1,0 5.4,0a2.7,2.7 0 1,0 -5.4,0 M829.2,1219.1a2.5,2.5 0 1,0 5.0,0a2.5,2.5 0 1,0 -5.0,0 M832.5,1239.0a1.8,1.8 0 1,0 3.6,0a1.8,1.8 0 1,0 -3.6,0 M850.2,1211.5a2.1,2.1 0 1,0 4.2,0a2.1,2.1 0 1,0 -4.2,0 M853.3,1213.9a1.8,1.8 0 1,0 3.6,0a1.8,1.8 0 1,0 -3.6,0 M842.3,1217.9a1.5,1.5 0 1,0 3.0,0a1.5,1.5 0 1,0 -3.0,0 M832.2,1212.2a2.7,2.7 0 1,0 5.4,0a2.7,2.7 0 1,0 -5.4,0 M833.0,1234.9a1.6,1.6 0 1,0 3.2,0a1.6,1.6 0 1,0 -3.2,0 M842.6,1229.5a1.9,1.9 0 1,0 3.8,0a1.9,1.9 0 1,0 -3.8,0 M844.7,1220.7a2.5,2.5 0 1,0 5.0,0a2.5,2.5 0 1,0 -5.0,0 M835.0,1242.4a2.2,2.2 0 1,0 4.4,0a2.2,2.2 0 1,0 -4.4,0 M837.8,1234.2a2.0,2.0 0 1,0 4.0,0a2.0,2.0 0 1,0 -4.0,0 M833.3,1233.4a1.5,1.5 0 1,0 3.0,0a1.5,1.5 0 1,0 -3.0,0 M850.1,1215.6a2.3,2.3 0 1,0 4.6,0a2.3,2.3 0 1,0 -4.6,0 M846.7,1217.7a1.4,1.4 0 1,0 2.8,0a1.4,1.4 0 1,0 -2.8,0 M828.6,1211.8a2.3,2.3 0 1,0 4.6,0a2.3,2.3 0 1,0 -4.6,0 M839.1,1225.0a2.7,2.7 0 1,0 5.4,0a2.7,2.7 0 1,0 -5.4,0 M831.3,1214.6a2.3,2.3 0 1,0 4.6,0a2.3,2.3 0 1,0 -4.6,0 M837.8,1210.2a1.9,1.9 0 1,0 3.8,0a1.9,1.9 0 1,0 -3.8,0 M833.9,1227.6a2.2,2.2 0 1,0 4.4,0a2.2,2.2 0 1,0 -4.4,0 M833.4,1229.1a2.1,2.1 0 1,0 4.2,0a2.1,2.1 0 1,0 -4.2,0 M831.9,1240.5a1.7,1.7 0 1,0 3.4,0a1.7,1.7 0 1,0 -3.4,0 M831.7,1209.8a2.3,2.3 0 1,0 4.6,0a2.3,2.3 0 1,0 -4.6,0 M839.5,1215.9a1.4,1.4 0 1,0 2.8,0a1.4,1.4 0 1,0 -2.8,0 M845.7,1226.8a1.9,1.9 0 1,0 3.8,0a1.9,1.9 0 1,0 -3.8,0 M844.9,1222.5a2.7,2.7 0 1,0 5.4,0a2.7,2.7 0 1,0 -5.4,0 M847.3,1215.4a2.7,2.7 0 1,0 5.4,0a2.7,2.7 0 1,0 -5.4,0 M829.1,1225.7a2.0,2.0 0 1,0 4.0,0a2.0,2.0 0 1,0 -4.0,0 M833.9,1208.4a2.5,2.5 0 1,0 5.0,0a2.5,2.5 0 1,0 -5.0,0 M827.6,1226.4a2.7,2.7 0 1,0 5.4,0a2.7,2.7 0 1,0 -5.4,0 M831.5,1213.6a2.3,2.3 0 1,0 4.6,0a2.3,2.3 0 1,0 -4.6,0 M841.3,1229.7a2.5,2.5 0 1,0 5.0,0a2.5,2.5 0 1,0 -5.0,0 M832.9,1217.6a1.8,1.8 0 1,0 3.6,0a1.8,1.8 0 1,0 -3.6,0 M828.8,1238.8a2.5,2.5 0 1,0 5.0,0a2.5,2.5 0 1,0 -5.0,0 M846.9,1206.5a2.6,2.6 0 1,0 5.2,0a2.6,2.6 0 1,0 -5.2,0 M847.9,1223.3a2.4,2.4 0 1,0 4.8,0a2.4,2.4 0 1,0 -4.8,0 M840.8,1214.5a1.5,1.5 0 1,0 3.0,0a1.5,1.5 0 1,0 -3.0,0 M834.4,1207.7a1.9,1.9 0 1,0 3.8,0a1.9,1.9 0 1,0 -3.8,0 M835.2,1226.5a2.0,2.0 0 1,0 4.0,0a2.0,2.0 0 1,0 -4.0,0 M849.7,1225.4a1.8,1.8 0 1,0 3.6,0a1.8,1.8 0 1,0 -3.6,0 M834.5,1238.4a1.4,1.4 0 1,0 2.8,0a1.4,1.4 0 1,0 -2.8,0 M834.7,1214.9a2.4,2.4 0 1,0 4.8,0a2.4,2.4 0 1,0 -4.8,0 M837.0,1238.4a1.9,1.9 0 1,0 3.8,0a1.9,1.9 0 1,0 -3.8,0 M834.2,1239.4a2.3,2.3 0 1,0 4.6,0a2.3,2.3 0 1,0 -4.6,0 M846.1,1230.6a2.8,2.8 0 1,0 5.6,0a2.8,2.8 0 1,0 -5.6,0 M840.4,1236.9a2.4,2.4 0 1,0 4.8,0a2.4,2.4 0 1,0 -4.8,0 M851.0,1222.3a2.4,2.4 0 1,0 4.8,0a2.4,2.4 0 1,0 -4.8,0 M843.9,1217.5a1.7,1.7 0 1,0 3.4,0a1.7,1.7 0 1,0 -3.4,0 M844.3,1209.1a2.7,2.7 0 1,0 5.4,0a2.7,2.7 0 1,0 -5.4,0 M832.4,1207.3a1.5,1.5 0 1,0 3.0,0a1.5,1.5 0 1,0 -3.0,0 M853.8,1218.9a1.6,1.6 0 1,0 3.2,0a1.6,1.6 0 1,0 -3.2,0 M846.5,1229.4a2.4,2.4 0 1,0 4.8,0a2.4,2.4 0 1,0 -4.8,0 M847.9,1208.7a2.2,2.2 0 1,0 4.4,0a2.2,2.2 0 1,0 -4.4,0 M807.2,1253.0a2.4,2.4 0 1,0 4.8,0a2.4,2.4 0 1,0 -4.8,0 M823.2,1224.0a2.4,2.4 0 1,0 4.8,0a2.4,2.4 0 1,0 -4.8,0 M816.2,1232.6a1.5,1.5 0 1,0 3.0,0a1.5,1.5 0 1,0 -3.0,0 M799.9,1250.7a1.6,1.6 0 1,0 3.2,0a1.6,1.6 0 1,0 -3.2,0 M806.8,1237.8a1.4,1.4 0 1,0 2.8,0a1.4,1.4 0 1,0 -2.8,0 M804.0,1232.4a2.3,2.3 0 1,0 4.6,0a2.3,2.3 0 1,0 -4.6,0 M807.1,1233.9a2.6,2.6 0 1,0 5.2,0a2.6,2.6 0 1,0 -5.2,0 M808.8,1238.3a2.3,2.3 0 1,0 4.6,0a2.3,2.3 0 1,0 -4.6,0 M807.1,1248.6a2.0,2.0 0 1,0 4.0,0a2.0,2.0 0 1,0 -4.0,0 M803.6,1254.7a1.5,1.5 0 1,0 3.0,0a1.5,1.5 0 1,0 -3.0,0 M822.1,1228.1a1.4,1.4 0 1,0 2.8,0a1.4,1.4 0 1,0 -2.8,0 M802.1,1250.9a2.6,2.6 0 1,0 5.2,0a2.6,2.6 0 1,0 -5.2,0 M811.9,1252.2a1.6,1.6 0 1,0 3.2,0a1.6,1.6 0 1,0 -3.2,0 M811.2,1234.9a2.4,2.4 0 1,0 4.8,0a2.4,2.4 0 1,0 -4.8,0 M804.7,1257.9a1.7,1.7 0 1,0 3.4,0a1.7,1.7 0 1,0 -3.4,0 M803.0,1248.4a2.0,2.0 0 1,0 4.0,0a2.0,2.0 0 1,0 -4.0,0 M800.4,1246.0a1.5,1.5 0 1,0 3.0,0a1.5,1.5 0 1,0 -3.0,0 M807.4,1237.0a1.9,1.9 0 1,0 3.8,0a1.9,1.9 0 1,0 -3.8,0 M823.1,1224.8a2.5,2.5 0 1,0 5.0,0a2.5,2.5 0 1,0 -5.0,0 M804.5,1256.2a2.0,2.0 0 1,0 4.0,0a2.0,2.0 0 1,0 -4.0,0 M803.6,1239.3a2.0,2.0 0 1,0 4.0,0a2.0,2.0 0 1,0 -4.0,0 M816.4,1234.9a1.8,1.8 0 1,0 3.6,0a1.8,1.8 0 1,0 -3.6,0 M801.0,1254.0a2.2,2.2 0 1,0 4.4,0a2.2,2.2 0 1,0 -4.4,0 M819.2,1228.0a1.9,1.9 0 1,0 3.8,0a1.9,1.9 0 1,0 -3.8,0 M799.9,1239.3a2.5,2.5 0 1,0 5.0,0a2.5,2.5 0 1,0 -5.0,0 M805.3,1248.6a2.4,2.4 0 1,0 4.8,0a2.4,2.4 0 1,0 -4.8,0 M804.0,1234.1a2.0,2.0 0 1,0 4.0,0a2.0,2.0 0 1,0 -4.0,0 M801.8,1234.1a1.6,1.6 0 1,0 3.2,0a1.6,1.6 0 1,0 -3.2,0 M799.0,1236.3a2.6,2.6 0 1,0 5.2,0a2.6,2.6 0 1,0 -5.2,0 M809.5,1229.1a2.2,2.2 0 1,0 4.4,0a2.2,2.2 0 1,0 -4.4,0 M808.5,1252.0a2.2,2.2 0 1,0 4.4,0a2.2,2.2 0 1,0 -4.4,0 M811.7,1245.9a2.0,2.0 0 1,0 4.0,0a2.0,2.0 0 1,0 -4.0,0 M800.9,1244.8a1.9,1.9 0 1,0 3.8,0a1.9,1.9 0 1,0 -3.8,0 M809.3,1243.6a2.3,2.3 0 1,0 4.6,0a2.3,2.3 0 1,0 -4.6,0 M809.0,1230.3a2.3,2.3 0 1,0 4.6,0a2.3,2.3 0 1,0 -4.6,0 M817.3,1246.2a1.9,1.9 0 1,0 3.8,0a1.9,1.9 0 1,0 -3.8,0 M783.5,1274.0a1.5,1.5 0 1,0 3.0,0a1.5,1.5 0 1,0 -3.0,0 M784.6,1277.5a2.1,2.1 0 1,0 4.2,0a2.1,2.1 0 1,0 -4.2,0 M788.0,1265.6a1.8,1.8 0 1,0 3.6,0a1.8,1.8 0 1,0 -3.6,0 M785.4,1273.9a1.8,1.8 0 1,0 3.6,0a1.8,1.8 0 1,0 -3.6,0 M790.2,1268.7a1.9,1.9 0 1,0 3.8,0a1.9,1.9 0 1,0 -3.8,0 M793.2,1260.9a1.9,1.9 0 1,0 3.8,0a1.9,1.9 0 1,0 -3.8,0 M780.4,1277.5a2.3,2.3 0 1,0 4.6,0a2.3,2.3 0 1,0 -4.6,0 M786.2,1262.3a2.0,2.0 0 1,0 4.0,0a2.0,2.0 0 1,0 -4.0,0 M786.6,1276.0a1.9,1.9 0 1,0 3.8,0a1.9,1.9 0 1,0 -3.8,0 M785.9,1269.2a2.3,2.3 0 1,0 4.6,0a2.3,2.3 0 1,0 -4.6,0 M906.6,1125.2a2.2,2.2 0 1,0 4.4,0a2.2,2.2 0 1,0 -4.4,0 M899.2,1128.8a2.2,2.2 0 1,0 4.4,0a2.2,2.2 0 1,0 -4.4,0 M898.8,1132.8a1.6,1.6 0 1,0 3.2,0a1.6,1.6 0 1,0 -3.2,0 M887.0,1129.3a2.2,2.2 0 1,0 4.4,0a2.2,2.2 0 1,0 -4.4,0 M890.6,1137.2a1.5,1.5 0 1,0 3.0,0a1.5,1.5 0 1,0 -3.0,0 M878.6,1131.8a3.0,3.0 0 1,0 6.0,0a3.0,3.0 0 1,0 -6.0,0 M876.4,1134.3a2.2,2.2 0 1,0 4.4,0a2.2,2.2 0 1,0 -4.4,0 M871.7,1136.4a1.8,1.8 0 1,0 3.6,0a1.8,1.8 0 1,0 -3.6,0 M879.4,1147.0a2.2,2.2 0 1,0 4.4,0a2.2,2.2 0 1,0 -4.4,0 M878.2,1150.5a2.4,2.4 0 1,0 4.8,0a2.4,2.4 0 1,0 -4.8,0 M886.8,1167.8a2.4,2.4 0 1,0 4.8,0a2.4,2.4 0 1,0 -4.8,0 M872.8,1169.3a1.7,1.7 0 1,0 3.4,0a1.7,1.7 0 1,0 -3.4,0 M872.0,1174.4a1.5,1.5 0 1,0 3.0,0a1.5,1.5 0 1,0 -3.0,0 M883.0,1180.2a1.5,1.5 0 1,0 3.0,0a1.5,1.5 0 1,0 -3.0,0 M865.0,1166.3a1.4,1.4 0 1,0 2.8,0a1.4,1.4 0 1,0 -2.8,0 M859.2,1173.9a2.2,2.2 0 1,0 4.4,0a2.2,2.2 0 1,0 -4.4,0 M858.0,1177.9a2.4,2.4 0 1,0 4.8,0a2.4,2.4 0 1,0 -4.8,0 M855.4,1181.0a2.4,2.4 0 1,0 4.8,0a2.4,2.4 0 1,0 -4.8,0 M858.4,1185.5a1.4,1.4 0 1,0 2.8,0a1.4,1.4 0 1,0 -2.8,0 M856.8,1192.6a3.0,3.0 0 1,0 6.0,0a3.0,3.0 0 1,0 -6.0,0 M856.7,1225.6a1.6,1.6 0 1,0 3.2,0a1.6,1.6 0 1,0 -3.2,0 M829.9,1252.9a1.6,1.6 0 1,0 3.2,0a1.6,1.6 0 1,0 -3.2,0 M824.6,1244.8a1.8,1.8 0 1,0 3.6,0a1.8,1.8 0 1,0 -3.6,0 M827.5,1242.3a1.4,1.4 0 1,0 2.8,0a1.4,1.4 0 1,0 -2.8,0 M847.6,1233.7a1.6,1.6 0 1,0 3.2,0a1.6,1.6 0 1,0 -3.2,0 M853.3,1166.8a3.0,3.0 0 1,0 6.0,0a3.0,3.0 0 1,0 -6.0,0 M848.8,1174.9a2.4,2.4 0 1,0 4.8,0a2.4,2.4 0 1,0 -4.8,0 M785.5,1262.8a3.0,3.0 0 1,0 6.0,0a3.0,3.0 0 1,0 -6.0,0 M788.6,1273.5a2.0,2.0 0 1,0 4.0,0a2.0,2.0 0 1,0 -4.0,0 M769.5,1279.5a2.8,2.8 0 1,0 5.6,0a2.8,2.8 0 1,0 -5.6,0 M764.1,1285.6a3.2,3.2 0 1,0 6.4,0a3.2,3.2 0 1,0 -6.4,0 M759.8,1284.6a2.4,2.4 0 1,0 4.8,0a2.4,2.4 0 1,0 -4.8,0 M772.0,1286.6a2.4,2.4 0 1,0 4.8,0a2.4,2.4 0 1,0 -4.8,0 M768.3,1287.6a2.0,2.0 0 1,0 4.0,0a2.0,2.0 0 1,0 -4.0,0 M774.0,1283.6a2.4,2.4 0 1,0 4.8,0a2.4,2.4 0 1,0 -4.8,0 M762.0,1303.9a1.4,1.4 0 1,0 2.8,0a1.4,1.4 0 1,0 -2.8,0 M751.3,1305.4a1.3,1.3 0 1,0 2.6,0a1.3,1.3 0 1,0 -2.6,0 M741.3,1318.9a1.6,1.6 0 1,0 3.2,0a1.6,1.6 0 1,0 -3.2,0 M730.8,1341.4a2.0,2.0 0 1,0 4.0,0a2.0,2.0 0 1,0 -4.0,0 M732.4,1342.6a1.4,1.4 0 1,0 2.8,0a1.4,1.4 0 1,0 -2.8,0 M709.5,1357.6a2.0,2.0 0 1,0 4.0,0a2.0,2.0 0 1,0 -4.0,0 M706.9,1360.6a1.6,1.6 0 1,0 3.2,0a1.6,1.6 0 1,0 -3.2,0 M709.1,1358.8a1.4,1.4 0 1,0 2.8,0a1.4,1.4 0 1,0 -2.8,0 M690.7,1345.4a2.6,2.6 0 1,0 5.2,0a2.6,2.6 0 1,0 -5.2,0 M694.5,1346.4a2.8,2.8 0 1,0 5.6,0a2.8,2.8 0 1,0 -5.6,0 M698.8,1347.5a2.6,2.6 0 1,0 5.2,0a2.6,2.6 0 1,0 -5.2,0 M700.2,1351.5a2.2,2.2 0 1,0 4.4,0a2.2,2.2 0 1,0 -4.4,0 M698.0,1355.1a2.4,2.4 0 1,0 4.8,0a2.4,2.4 0 1,0 -4.8,0 M694.3,1349.0a2.0,2.0 0 1,0 4.0,0a2.0,2.0 0 1,0 -4.0,0 M732.1,1324.1a2.2,2.2 0 1,0 4.4,0a2.2,2.2 0 1,0 -4.4,0 M608.1,1396.6a2.0,2.0 0 1,0 4.0,0a2.0,2.0 0 1,0 -4.0,0 M613.8,1390.0a2.4,2.4 0 1,0 4.8,0a2.4,2.4 0 1,0 -4.8,0 M797.2,1247.1a2.0,2.0 0 1,0 4.0,0a2.0,2.0 0 1,0 -4.0,0 M520.3,1421.5a2.1,2.1 0 1,0 4.2,0a2.1,2.1 0 1,0 -4.2,0 M515.9,1411.6a2.1,2.1 0 1,0 4.2,0a2.1,2.1 0 1,0 -4.2,0 M514.7,1415.1a2.1,2.1 0 1,0 4.2,0a2.1,2.1 0 1,0 -4.2,0 M521.4,1410.3a2.6,2.6 0 1,0 5.2,0a2.6,2.6 0 1,0 -5.2,0 M520.6,1424.4a2.1,2.1 0 1,0 4.2,0a2.1,2.1 0 1,0 -4.2,0 M536.0,1424.6a2.5,2.5 0 1,0 5.0,0a2.5,2.5 0 1,0 -5.0,0 M528.0,1418.5a1.8,1.8 0 1,0 3.6,0a1.8,1.8 0 1,0 -3.6,0 M531.9,1424.8a2.7,2.7 0 1,0 5.4,0a2.7,2.7 0 1,0 -5.4,0 M527.4,1412.0a2.3,2.3 0 1,0 4.6,0a2.3,2.3 0 1,0 -4.6,0 M518.0,1425.2a2.0,2.0 0 1,0 4.0,0a2.0,2.0 0 1,0 -4.0,0 M525.0,1411.0a2.1,2.1 0 1,0 4.2,0a2.1,2.1 0 1,0 -4.2,0 M521.2,1412.2a2.2,2.2 0 1,0 4.4,0a2.2,2.2 0 1,0 -4.4,0 M526.1,1420.4a2.5,2.5 0 1,0 5.0,0a2.5,2.5 0 1,0 -5.0,0 M523.9,1427.5a2.8,2.8 0 1,0 5.6,0a2.8,2.8 0 1,0 -5.6,0 M540.4,1424.0a1.7,1.7 0 1,0 3.4,0a1.7,1.7 0 1,0 -3.4,0 M538.5,1420.3a1.5,1.5 0 1,0 3.0,0a1.5,1.5 0 1,0 -3.0,0 M521.1,1423.8a2.0,2.0 0 1,0 4.0,0a2.0,2.0 0 1,0 -4.0,0 M539.0,1419.7a2.7,2.7 0 1,0 5.4,0a2.7,2.7 0 1,0 -5.4,0 M532.7,1426.6a2.7,2.7 0 1,0 5.4,0a2.7,2.7 0 1,0 -5.4,0 M533.5,1417.8a2.6,2.6 0 1,0 5.2,0a2.6,2.6 0 1,0 -5.2,0 M526.6,1426.4a2.3,2.3 0 1,0 4.6,0a2.3,2.3 0 1,0 -4.6,0 M522.2,1410.6a1.7,1.7 0 1,0 3.4,0a1.7,1.7 0 1,0 -3.4,0 M528.2,1406.3a2.2,2.2 0 1,0 4.4,0a2.2,2.2 0 1,0 -4.4,0 M518.3,1416.8a2.2,2.2 0 1,0 4.4,0a2.2,2.2 0 1,0 -4.4,0 M530.3,1425.9a1.5,1.5 0 1,0 3.0,0a1.5,1.5 0 1,0 -3.0,0 M529.6,1421.1a2.8,2.8 0 1,0 5.6,0a2.8,2.8 0 1,0 -5.6,0 M524.2,1415.1a2.9,2.9 0 1,0 5.8,0a2.9,2.9 0 1,0 -5.8,0 M516.1,1420.4a2.5,2.5 0 1,0 5.0,0a2.5,2.5 0 1,0 -5.0,0 M514.7,1419.7a2.5,2.5 0 1,0 5.0,0a2.5,2.5 0 1,0 -5.0,0 M528.6,1426.7a1.6,1.6 0 1,0 3.2,0a1.6,1.6 0 1,0 -3.2,0 M534.8,1420.1a2.0,2.0 0 1,0 4.0,0a2.0,2.0 0 1,0 -4.0,0 M527.2,1417.7a2.7,2.7 0 1,0 5.4,0a2.7,2.7 0 1,0 -5.4,0 M520.3,1415.5a2.1,2.1 0 1,0 4.2,0a2.1,2.1 0 1,0 -4.2,0 M530.3,1425.0a1.9,1.9 0 1,0 3.8,0a1.9,1.9 0 1,0 -3.8,0 M528.4,1411.5a2.3,2.3 0 1,0 4.6,0a2.3,2.3 0 1,0 -4.6,0 M541.4,1420.8a2.7,2.7 0 1,0 5.4,0a2.7,2.7 0 1,0 -5.4,0 M523.9,1412.6a1.9,1.9 0 1,0 3.8,0a1.9,1.9 0 1,0 -3.8,0 M530.4,1420.3a2.7,2.7 0 1,0 5.4,0a2.7,2.7 0 1,0 -5.4,0 M514.8,1422.5a2.8,2.8 0 1,0 5.6,0a2.8,2.8 0 1,0 -5.6,0 M531.0,1420.9a2.7,2.7 0 1,0 5.4,0a2.7,2.7 0 1,0 -5.4,0 M531.4,1420.1a2.5,2.5 0 1,0 5.0,0a2.5,2.5 0 1,0 -5.0,0 M531.6,1421.4a1.8,1.8 0 1,0 3.6,0a1.8,1.8 0 1,0 -3.6,0 M532.8,1416.0a2.6,2.6 0 1,0 5.2,0a2.6,2.6 0 1,0 -5.2,0 M514.6,1423.7a2.9,2.9 0 1,0 5.8,0a2.9,2.9 0 1,0 -5.8,0 M544.8,1407.0a2.6,2.6 0 1,0 5.2,0a2.6,2.6 0 1,0 -5.2,0 M547.3,1411.3a1.8,1.8 0 1,0 3.6,0a1.8,1.8 0 1,0 -3.6,0 M540.8,1408.2a1.9,1.9 0 1,0 3.8,0a1.9,1.9 0 1,0 -3.8,0 M541.7,1413.1a2.7,2.7 0 1,0 5.4,0a2.7,2.7 0 1,0 -5.4,0 M536.7,1401.4a2.6,2.6 0 1,0 5.2,0a2.6,2.6 0 1,0 -5.2,0 M541.1,1412.0a2.7,2.7 0 1,0 5.4,0a2.7,2.7 0 1,0 -5.4,0 M541.9,1401.1a2.3,2.3 0 1,0 4.6,0a2.3,2.3 0 1,0 -4.6,0 M540.0,1402.2a1.5,1.5 0 1,0 3.0,0a1.5,1.5 0 1,0 -3.0,0 M545.7,1404.2a2.5,2.5 0 1,0 5.0,0a2.5,2.5 0 1,0 -5.0,0 M546.3,1414.7a2.6,2.6 0 1,0 5.2,0a2.6,2.6 0 1,0 -5.2,0 M546.1,1400.7a2.3,2.3 0 1,0 4.6,0a2.3,2.3 0 1,0 -4.6,0 M545.4,1409.1a2.7,2.7 0 1,0 5.4,0a2.7,2.7 0 1,0 -5.4,0 M547.6,1400.6a1.9,1.9 0 1,0 3.8,0a1.9,1.9 0 1,0 -3.8,0 M545.8,1402.5a2.6,2.6 0 1,0 5.2,0a2.6,2.6 0 1,0 -5.2,0 M543.1,1400.1a2.0,2.0 0 1,0 4.0,0a2.0,2.0 0 1,0 -4.0,0 M543.9,1408.6a2.4,2.4 0 1,0 4.8,0a2.4,2.4 0 1,0 -4.8,0 M538.6,1416.6a2.0,2.0 0 1,0 4.0,0a2.0,2.0 0 1,0 -4.0,0 M545.2,1412.8a2.0,2.0 0 1,0 4.0,0a2.0,2.0 0 1,0 -4.0,0 M541.1,1416.3a2.7,2.7 0 1,0 5.4,0a2.7,2.7 0 1,0 -5.4,0 M547.2,1411.4a1.9,1.9 0 1,0 3.8,0a1.9,1.9 0 1,0 -3.8,0 M540.3,1412.3a2.8,2.8 0 1,0 5.6,0a2.8,2.8 0 1,0 -5.6,0 M547.8,1412.2a1.9,1.9 0 1,0 3.8,0a1.9,1.9 0 1,0 -3.8,0 M542.4,1418.6a2.0,2.0 0 1,0 4.0,0a2.0,2.0 0 1,0 -4.0,0 M545.1,1412.2a2.7,2.7 0 1,0 5.4,0a2.7,2.7 0 1,0 -5.4,0 M547.9,1405.1a1.5,1.5 0 1,0 3.0,0a1.5,1.5 0 1,0 -3.0,0 M539.9,1408.2a2.3,2.3 0 1,0 4.6,0a2.3,2.3 0 1,0 -4.6,0 M543.7,1404.9a2.6,2.6 0 1,0 5.2,0a2.6,2.6 0 1,0 -5.2,0 M546.7,1414.1a2.7,2.7 0 1,0 5.4,0a2.7,2.7 0 1,0 -5.4,0 M541.1,1400.7a2.2,2.2 0 1,0 4.4,0a2.2,2.2 0 1,0 -4.4,0 M546.7,1403.3a2.5,2.5 0 1,0 5.0,0a2.5,2.5 0 1,0 -5.0,0 M455.9,1456.4a2.1,2.1 0 1,0 4.2,0a2.1,2.1 0 1,0 -4.2,0 M459.1,1457.9a2.1,2.1 0 1,0 4.2,0a2.1,2.1 0 1,0 -4.2,0 M443.9,1458.1a2.5,2.5 0 1,0 5.0,0a2.5,2.5 0 1,0 -5.0,0 M447.0,1455.1a2.7,2.7 0 1,0 5.4,0a2.7,2.7 0 1,0 -5.4,0 M462.1,1454.3a2.1,2.1 0 1,0 4.2,0a2.1,2.1 0 1,0 -4.2,0 M455.8,1449.9a1.8,1.8 0 1,0 3.6,0a1.8,1.8 0 1,0 -3.6,0 M446.5,1456.7a2.0,2.0 0 1,0 4.0,0a2.0,2.0 0 1,0 -4.0,0 M454.9,1452.8a2.2,2.2 0 1,0 4.4,0a2.2,2.2 0 1,0 -4.4,0 M459.7,1449.5a2.3,2.3 0 1,0 4.6,0a2.3,2.3 0 1,0 -4.6,0 M450.7,1454.3a1.5,1.5 0 1,0 3.0,0a1.5,1.5 0 1,0 -3.0,0 M461.6,1453.9a2.2,2.2 0 1,0 4.4,0a2.2,2.2 0 1,0 -4.4,0 M448.2,1457.7a2.1,2.1 0 1,0 4.2,0a2.1,2.1 0 1,0 -4.2,0 M463.0,1457.6a2.6,2.6 0 1,0 5.2,0a2.6,2.6 0 1,0 -5.2,0 M461.2,1453.5a2.7,2.7 0 1,0 5.4,0a2.7,2.7 0 1,0 -5.4,0 M456.1,1452.7a1.7,1.7 0 1,0 3.4,0a1.7,1.7 0 1,0 -3.4,0 M454.4,1455.9a2.7,2.7 0 1,0 5.4,0a2.7,2.7 0 1,0 -5.4,0 M457.3,1452.6a2.1,2.1 0 1,0 4.2,0a2.1,2.1 0 1,0 -4.2,0 M449.6,1459.3a2.7,2.7 0 1,0 5.4,0a2.7,2.7 0 1,0 -5.4,0 M459.7,1456.8a2.3,2.3 0 1,0 4.6,0a2.3,2.3 0 1,0 -4.6,0 M445.0,1457.4a2.7,2.7 0 1,0 5.4,0a2.7,2.7 0 1,0 -5.4,0 M457.3,1451.4a2.3,2.3 0 1,0 4.6,0a2.3,2.3 0 1,0 -4.6,0 M459.5,1448.8a1.9,1.9 0 1,0 3.8,0a1.9,1.9 0 1,0 -3.8,0 M459.0,1450.0a1.5,1.5 0 1,0 3.0,0a1.5,1.5 0 1,0 -3.0,0 M456.6,1453.4a1.9,1.9 0 1,0 3.8,0a1.9,1.9 0 1,0 -3.8,0 M460.5,1453.7a2.3,2.3 0 1,0 4.6,0a2.3,2.3 0 1,0 -4.6,0 M461.9,1451.0a2.0,2.0 0 1,0 4.0,0a2.0,2.0 0 1,0 -4.0,0 M523.4,1404.4a3.2,3.2 0 1,0 6.4,0a3.2,3.2 0 1,0 -6.4,0 M522.1,1405.9a2.4,2.4 0 1,0 4.8,0a2.4,2.4 0 1,0 -4.8,0 M513.8,1409.4a2.6,2.6 0 1,0 5.2,0a2.6,2.6 0 1,0 -5.2,0 M513.8,1417.5a1.6,1.6 0 1,0 3.2,0a1.6,1.6 0 1,0 -3.2,0 M509.0,1425.1a2.4,2.4 0 1,0 4.8,0a2.4,2.4 0 1,0 -4.8,0 M510.4,1428.2a2.0,2.0 0 1,0 4.0,0a2.0,2.0 0 1,0 -4.0,0 M505.7,1432.2a2.6,2.6 0 1,0 5.2,0a2.6,2.6 0 1,0 -5.2,0 M508.6,1434.3a2.8,2.8 0 1,0 5.6,0a2.8,2.8 0 1,0 -5.6,0 M513.0,1433.3a2.4,2.4 0 1,0 4.8,0a2.4,2.4 0 1,0 -4.8,0 M515.3,1434.8a2.2,2.2 0 1,0 4.4,0a2.2,2.2 0 1,0 -4.4,0 M508.6,1437.8a2.8,2.8 0 1,0 5.6,0a2.8,2.8 0 1,0 -5.6,0 M520.8,1431.7a2.2,2.2 0 1,0 4.4,0a2.2,2.2 0 1,0 -4.4,0 M524.6,1431.2a2.0,2.0 0 1,0 4.0,0a2.0,2.0 0 1,0 -4.0,0 M527.4,1428.7a2.2,2.2 0 1,0 4.4,0a2.2,2.2 0 1,0 -4.4,0 M561.7,1388.7a2.4,2.4 0 1,0 4.8,0a2.4,2.4 0 1,0 -4.8,0 M559.0,1397.8a2.0,2.0 0 1,0 4.0,0a2.0,2.0 0 1,0 -4.0,0 M562.6,1409.9a2.0,2.0 0 1,0 4.0,0a2.0,2.0 0 1,0 -4.0,0 M562.0,1406.9a1.6,1.6 0 1,0 3.2,0a1.6,1.6 0 1,0 -3.2,0 M572.2,1403.9a2.0,2.0 0 1,0 4.0,0a2.0,2.0 0 1,0 -4.0,0 M583.3,1401.3a1.6,1.6 0 1,0 3.2,0a1.6,1.6 0 1,0 -3.2,0 M586.6,1395.8a1.8,1.8 0 1,0 3.6,0a1.8,1.8 0 1,0 -3.6,0 M592.2,1389.7a1.8,1.8 0 1,0 3.6,0a1.8,1.8 0 1,0 -3.6,0 M606.5,1393.7a2.2,2.2 0 1,0 4.4,0a2.2,2.2 0 1,0 -4.4,0 M477.3,1439.3a2.6,2.6 0 1,0 5.2,0a2.6,2.6 0 1,0 -5.2,0 M479.6,1441.4a2.4,2.4 0 1,0 4.8,0a2.4,2.4 0 1,0 -4.8,0 M477.5,1443.9a2.4,2.4 0 1,0 4.8,0a2.4,2.4 0 1,0 -4.8,0 M471.2,1448.0a2.2,2.2 0 1,0 4.4,0a2.2,2.2 0 1,0 -4.4,0 M472.3,1443.4a1.6,1.6 0 1,0 3.2,0a1.6,1.6 0 1,0 -3.2,0 M438.3,1454.5a2.6,2.6 0 1,0 5.2,0a2.6,2.6 0 1,0 -5.2,0 M421.3,1455.6a1.4,1.4 0 1,0 2.8,0a1.4,1.4 0 1,0 -2.8,0 M423.9,1458.1a1.3,1.3 0 1,0 2.6,0a1.3,1.3 0 1,0 -2.6,0 M424.7,1461.1a2.0,2.0 0 1,0 4.0,0a2.0,2.0 0 1,0 -4.0,0 M420.2,1462.1a2.0,2.0 0 1,0 4.0,0a2.0,2.0 0 1,0 -4.0,0 M434.6,1466.7a1.8,1.8 0 1,0 3.6,0a1.8,1.8 0 1,0 -3.6,0 M522.3,1445.9a1.7,1.7 0 1,0 3.4,0a1.7,1.7 0 1,0 -3.4,0 M523.6,1445.1a1.7,1.7 0 1,0 3.4,0a1.7,1.7 0 1,0 -3.4,0 M524.8,1444.2a1.7,1.7 0 1,0 3.4,0a1.7,1.7 0 1,0 -3.4,0 M526.0,1443.3a1.7,1.7 0 1,0 3.4,0a1.7,1.7 0 1,0 -3.4,0 M527.3,1442.5a1.7,1.7 0 1,0 3.4,0a1.7,1.7 0 1,0 -3.4,0 M528.5,1441.6a1.7,1.7 0 1,0 3.4,0a1.7,1.7 0 1,0 -3.4,0 M529.7,1440.7a1.7,1.7 0 1,0 3.4,0a1.7,1.7 0 1,0 -3.4,0 M531.0,1439.8a1.7,1.7 0 1,0 3.4,0a1.7,1.7 0 1,0 -3.4,0 M532.5,1435.8a1.7,1.7 0 1,0 3.4,0a1.7,1.7 0 1,0 -3.4,0 M534.1,1435.0a1.7,1.7 0 1,0 3.4,0a1.7,1.7 0 1,0 -3.4,0 M535.8,1434.2a1.7,1.7 0 1,0 3.4,0a1.7,1.7 0 1,0 -3.4,0 M537.5,1433.4a1.7,1.7 0 1,0 3.4,0a1.7,1.7 0 1,0 -3.4,0 M539.1,1432.6a1.7,1.7 0 1,0 3.4,0a1.7,1.7 0 1,0 -3.4,0 M540.8,1431.8a1.7,1.7 0 1,0 3.4,0a1.7,1.7 0 1,0 -3.4,0 M542.5,1431.0a1.7,1.7 0 1,0 3.4,0a1.7,1.7 0 1,0 -3.4,0 M544.1,1430.2a1.7,1.7 0 1,0 3.4,0a1.7,1.7 0 1,0 -3.4,0 M252.6,1492.0a2.8,2.8 0 1,0 5.6,0a2.8,2.8 0 1,0 -5.6,0 M259.1,1499.7a1.8,1.8 0 1,0 3.6,0a1.8,1.8 0 1,0 -3.6,0 M334.9,1533.1a2.0,2.0 0 1,0 4.0,0a2.0,2.0 0 1,0 -4.0,0 M334.3,1534.9a1.4,1.4 0 1,0 2.8,0a1.4,1.4 0 1,0 -2.8,0 M325.4,1512.4a2.4,2.4 0 1,0 4.8,0a2.4,2.4 0 1,0 -4.8,0 M203.4,1460.7a1.5,1.5 0 1,0 3.0,0a1.5,1.5 0 1,0 -3.0,0 M230.3,1457.1a2.0,2.0 0 1,0 4.0,0a2.0,2.0 0 1,0 -4.0,0 M976.2,1213.8a1.5,1.5 0 1,0 3.0,0a1.5,1.5 0 1,0 -3.0,0 M977.2,1222.4a1.8,1.8 0 1,0 3.6,0a1.8,1.8 0 1,0 -3.6,0 M968.2,1226.0a1.8,1.8 0 1,0 3.6,0a1.8,1.8 0 1,0 -3.6,0 M968.7,1262.1a1.7,1.7 0 1,0 3.4,0a1.7,1.7 0 1,0 -3.4,0 M1056.2,1206.2a2.6,2.6 0 1,0 5.2,0a2.6,2.6 0 1,0 -5.2,0 M1053.9,1206.8a1.6,1.6 0 1,0 3.2,0a1.6,1.6 0 1,0 -3.2,0 M942.5,1394.7a2.4,2.4 0 1,0 4.8,0a2.4,2.4 0 1,0 -4.8,0 M880.1,1414.2a2.2,2.2 0 1,0 4.4,0a2.2,2.2 0 1,0 -4.4,0 M945.0,1430.4a2.6,2.6 0 1,0 5.2,0a2.6,2.6 0 1,0 -5.2,0 M948.3,1433.6a1.8,1.8 0 1,0 3.6,0a1.8,1.8 0 1,0 -3.6,0 M949.9,1437.7a1.5,1.5 0 1,0 3.0,0a1.5,1.5 0 1,0 -3.0,0 M905.9,1449.1a1.5,1.5 0 1,0 3.0,0a1.5,1.5 0 1,0 -3.0,0 M829.8,1252.7a1.5,1.5 0 1,0 3.0,0a1.5,1.5 0 1,0 -3.0,0 M857.0,1225.5a1.4,1.4 0 1,0 2.8,0a1.4,1.4 0 1,0 -2.8,0 M838.5,1325.7a1.3,1.3 0 1,0 2.6,0a1.3,1.3 0 1,0 -2.6,0 M838.7,1329.3a1.5,1.5 0 1,0 3.0,0a1.5,1.5 0 1,0 -3.0,0 M822.8,1349.6a1.5,1.5 0 1,0 3.0,0a1.5,1.5 0 1,0 -3.0,0 M823.1,1354.9a1.6,1.6 0 1,0 3.2,0a1.6,1.6 0 1,0 -3.2,0 M828.0,1361.8a2.0,2.0 0 1,0 4.0,0a2.0,2.0 0 1,0 -4.0,0 M832.9,1352.0a2.0,2.0 0 1,0 4.0,0a2.0,2.0 0 1,0 -4.0,0 M833.1,1358.2a1.5,1.5 0 1,0 3.0,0a1.5,1.5 0 1,0 -3.0,0 M839.3,1359.5a1.3,1.3 0 1,0 2.6,0a1.3,1.3 0 1,0 -2.6,0 M842.8,1359.0a1.3,1.3 0 1,0 2.6,0a1.3,1.3 0 1,0 -2.6,0 M832.4,1336.1a1.6,1.6 0 1,0 3.2,0a1.6,1.6 0 1,0 -3.2,0 M842.5,1339.0a1.5,1.5 0 1,0 3.0,0a1.5,1.5 0 1,0 -3.0,0 M836.7,1332.8a1.5,1.5 0 1,0 3.0,0a1.5,1.5 0 1,0 -3.0,0 M834.2,1342.7a1.4,1.4 0 1,0 2.8,0a1.4,1.4 0 1,0 -2.8,0 M839.5,1332.9a2.2,2.2 0 1,0 4.4,0a2.2,2.2 0 1,0 -4.4,0 M837.2,1331.2a1.7,1.7 0 1,0 3.4,0a1.7,1.7 0 1,0 -3.4,0 M838.0,1330.4a1.5,1.5 0 1,0 3.0,0a1.5,1.5 0 1,0 -3.0,0 M840.8,1339.7a1.5,1.5 0 1,0 3.0,0a1.5,1.5 0 1,0 -3.0,0 M838.5,1336.2a1.5,1.5 0 1,0 3.0,0a1.5,1.5 0 1,0 -3.0,0 M832.6,1338.1a1.9,1.9 0 1,0 3.8,0a1.9,1.9 0 1,0 -3.8,0 M841.3,1337.6a1.5,1.5 0 1,0 3.0,0a1.5,1.5 0 1,0 -3.0,0 M830.8,1340.1a1.7,1.7 0 1,0 3.4,0a1.7,1.7 0 1,0 -3.4,0 M1066.1,1195.0a1.4,1.4 0 1,0 2.8,0a1.4,1.4 0 1,0 -2.8,0 M1114.5,1195.0a1.2,1.2 0 1,0 2.4,0a1.2,1.2 0 1,0 -2.4,0 M681.2,1510.2a2.0,2.0 0 1,0 4.0,0a2.0,2.0 0 1,0 -4.0,0 M682.9,1509.5a2.0,2.0 0 1,0 4.0,0a2.0,2.0 0 1,0 -4.0,0 M684.6,1509.5a2.0,2.0 0 1,0 4.0,0a2.0,2.0 0 1,0 -4.0,0 M686.2,1510.3a2.0,2.0 0 1,0 4.0,0a2.0,2.0 0 1,0 -4.0,0 M687.3,1511.7a2.0,2.0 0 1,0 4.0,0a2.0,2.0 0 1,0 -4.0,0 M687.7,1513.5a2.0,2.0 0 1,0 4.0,0a2.0,2.0 0 1,0 -4.0,0 M687.3,1515.2a2.0,2.0 0 1,0 4.0,0a2.0,2.0 0 1,0 -4.0,0 M686.2,1516.6a2.0,2.0 0 1,0 4.0,0a2.0,2.0 0 1,0 -4.0,0 M684.6,1517.4a2.0,2.0 0 1,0 4.0,0a2.0,2.0 0 1,0 -4.0,0 M682.9,1517.4a2.0,2.0 0 1,0 4.0,0a2.0,2.0 0 1,0 -4.0,0 M681.2,1516.7a2.0,2.0 0 1,0 4.0,0a2.0,2.0 0 1,0 -4.0,0 M677.5,1512.1a1.5,1.5 0 1,0 3.0,0a1.5,1.5 0 1,0 -3.0,0" fill="#000"/>
<text transform="translate(1140.04,78.90) scale(0.8984,1)" font-size="59.28" fill="#000" >a</text>
<text transform="translate(785.02,369.00) scale(1.0021,1)" font-size="29.53" fill="#000" >Bohai Sea</text>
<text transform="translate(946.50,584.30) scale(1.0029,1)" font-size="29.40" fill="#000" >Yellow Sea</text>
<text transform="translate(700.15,886.60) scale(1.0005,1)" font-size="37.68" fill="#000" >China</text>
<text transform="translate(953.02,1097.30) scale(1.0057,1)" font-size="29.40" fill="#000" >East China Sea</text>
<text transform="translate(369.05,1516.30) scale(1.0078,1)" font-size="29.40" fill="#000" >South China Sea</text>
<rect x="246.6" y="69.6" width="318.4" height="595.6999999999999" fill="#fff"/>
<rect x="192.9" y="46.5" width="394.80000000000007" height="618.8" fill="none" stroke="#0a0a0a" stroke-width="2.8"/>
<rect x="244.9" y="736" width="317.4" height="625.7" fill="#fff"/>
<rect x="193.2" y="697.2" width="392.09999999999997" height="631.5" fill="none" stroke="#0a0a0a" stroke-width="2.8"/>
<circle cx="343.2" cy="200.2" r="34.5" fill="#C97B76" stroke="#111" stroke-width="2.8" />
<circle cx="343.2" cy="307.9" r="47.0" fill="#C97B76" stroke="#111" stroke-width="2.8" />
<circle cx="343.2" cy="437.8" r="56.1" fill="#C26D65" stroke="#111" stroke-width="2.8" />
<circle cx="343.2" cy="584.6" r="64.1" fill="#C97B76" stroke="#111" stroke-width="2.8" />
<circle cx="343.5" cy="850.0" r="35.7" fill="#FFDC50" stroke="#4d431c" stroke-width="3.0" />
<circle cx="343.5" cy="960.3" r="48.0" fill="#FFDC50" stroke="#4d431c" stroke-width="3.0" />
<circle cx="343.5" cy="1091.0" r="58.5" fill="#FFDC50" stroke="#4d431c" stroke-width="3.0" />
<circle cx="343.5" cy="1244.7" r="66.7" fill="#FFDC50" stroke="#4d431c" stroke-width="3.0" />
<text transform="translate(221.95,89.80) scale(0.9818,1)" font-size="35.74" fill="#000" >Maximum shorebird</text>
<text transform="translate(231.16,133.00) scale(0.9968,1)" font-size="35.19" fill="#000" >density (Ind./km²)</text>
<text transform="translate(431.30,216.00) scale(1.0220,1)" font-size="38.24" fill="#000" >500</text>
<text transform="translate(430.08,319.40) scale(1.0025,1)" font-size="38.38" fill="#000" >1000</text>
<text transform="translate(432.18,442.90) scale(1.0001,1)" font-size="38.38" fill="#000" >1500</text>
<text transform="translate(436.26,600.10) scale(1.0089,1)" font-size="38.24" fill="#000" >2000</text>
<text transform="translate(231.97,740.00) scale(1.0153,1)" font-size="35.74" fill="#000" >Maximum mollusc</text>
<text transform="translate(252.01,783.80) scale(1.0001,1)" font-size="36.30" fill="#000" >density (Ind./m²)</text>
<text transform="translate(429.47,859.80) scale(1.0275,1)" font-size="37.81" fill="#000" >8000</text>
<text transform="translate(428.29,970.10) scale(0.9986,1)" font-size="38.38" fill="#000" >16000</text>
<text transform="translate(431.75,1101.20) scale(1.0237,1)" font-size="37.95" fill="#000" >24000</text>
<text transform="translate(432.21,1256.00) scale(1.0079,1)" font-size="38.38" fill="#000" >32000</text>
<g>
<polygon points="233.7,182.7 240.6,186.0 248.7,185.1 252.3,184.3 253.9,194.5 256.8,204.6 258.8,214.7 258.4,220.8 252.7,212.7 246.6,203.8 240.6,196.5 236.5,189.2" fill="#7d6b5c" />
<polygon points="246.6,190.8 252.7,188.4 253.9,194.5 256.8,204.6 258.8,214.7 258.4,220.8 252.7,212.7 247.4,203.8" fill="#8e7d6d" />
<polygon points="236.5,189.2 240.6,188.4 246.6,190.8 247.4,200.6 242.6,198.5 238.9,193.7" fill="#3d302b" />
<polygon points="217.4,172.2 221.1,169.7 230.4,167.7 240.6,168.9 250.7,171.8 256.8,174.2 252.7,182.7 244.6,189.2 234.5,184.3 222.7,179.1 218.2,176.2" fill="#a39a90" />
<polygon points="219.5,169.5 230.4,167.7 240.6,168.9 250.7,171.8 256.8,174.2 250.7,175.4 240.6,173.4 232.4,172.2 224.3,171.8" fill="#7a6248" />
<polygon points="252.7,174.6 260.8,176.2 268.9,178.5 267.3,180.7 258.8,181.5 252.7,182.1" fill="#cfcfcc" />
<polygon points="260.8,179.5 268.5,179.1 267.3,180.8 260.0,181.3" fill="#8a8680" />
<polygon points="217.0,172.2 219.1,170.1 222.7,169.7 226.0,172.2 224.3,176.2 219.1,176.6" fill="#8a8076" />
<line x1="208.1" y1="176.4" x2="217.0" y2="173.6" stroke="#3a3a3a" stroke-width="1.6" stroke-linecap="round"/>
<polygon points="221.1,176.2 225.1,173.4 231.6,172.6 234.9,176.2 233.3,180.3 228.4,181.5 224.3,179.1" fill="#2b2523" />
<polygon points="218.2,178.2 222.7,179.1 228.4,181.9 233.7,184.3 233.7,196.5 232.0,202.6 228.4,209.9 225.1,203.8 221.9,194.5 219.5,186.4" fill="#877a6e" />
<polygon points="228.4,181.9 233.7,184.3 233.7,196.5 232.0,202.6 228.4,209.9 226.4,205.4 226.0,192.4" fill="#6d5b4c" />
</g>
<defs><radialGradient id="shg" cx="0.45" cy="0.35" r="0.7"><stop offset="0" stop-color="#e6d5c0"/><stop offset="0.6" stop-color="#d3bca3"/><stop offset="1" stop-color="#a9927c"/></radialGradient></defs>
<polygon points="250.5,809.2 255.8,810.6 261.1,814.2 265.4,817.7 268.2,821.3 270.3,825.5 271.4,830.1 271.0,833.3 269.6,836.2 264.6,840.8 260.0,842.9 255.8,844.0 248.7,844.3 245.1,843.3 241.6,841.8 238.0,840.4 234.9,839.0 232.0,836.9 231.7,839.0 229.2,840.2 229.9,836.9 229.2,834.0 228.5,831.2 228.5,828.4 229.5,824.8 231.0,822.0 233.8,818.8 237.0,816.0 240.5,813.7 244.1,811.7 247.3,810.1" fill="url(#shg)" />
<polyline points="230.6,835.5 234.9,839.0 241.6,841.8 248.7,844.3 255.8,844.0 264.6,840.8 270.3,835.5" fill="none" stroke="#6a4f3f" stroke-width="1.6" stroke-linejoin="round"/>
<polyline points="233.4,829.1 239.8,831.9 246.9,835.1 254.0,836.2 259.3,834.8" fill="none" stroke="#9b8570" stroke-width="1.8" opacity="0.8"/>
<polyline points="232.0,833.0 238.0,836.2 245.1,839.0 254.0,840.1 262.9,837.6 268.2,833.0" fill="none" stroke="#c9a585" stroke-width="1.6" opacity="0.9"/>
<polyline points="239.8,823.0 246.9,827.7 252.2,829.1" fill="none" stroke="#b8a088" stroke-width="1.2" opacity="0.8"/>
<rect x="146.7" y="26.7" width="1040.0" height="1590.0" fill="none" stroke="#111" stroke-width="2.4"/>
<line x1="303.9" y1="1617.7" x2="303.9" y2="1624.7" stroke="#333" stroke-width="4.2"/>
<line x1="583.2" y1="1617.7" x2="583.2" y2="1624.7" stroke="#333" stroke-width="4.2"/>
<line x1="862.5" y1="1617.7" x2="862.5" y2="1624.7" stroke="#333" stroke-width="4.2"/>
<line x1="1141.8" y1="1617.7" x2="1141.8" y2="1624.7" stroke="#333" stroke-width="4.2"/>
<line x1="138.7" y1="255.3" x2="145.7" y2="255.3" stroke="#333" stroke-width="4.2"/>
<line x1="138.7" y1="607.0" x2="145.7" y2="607.0" stroke="#333" stroke-width="4.2"/>
<line x1="138.7" y1="938.0" x2="145.7" y2="938.0" stroke="#333" stroke-width="4.2"/>
<line x1="138.7" y1="1252.0" x2="145.7" y2="1252.0" stroke="#333" stroke-width="4.2"/>
<line x1="138.7" y1="1553.6" x2="145.7" y2="1553.6" stroke="#333" stroke-width="4.2"/>
<text transform="translate(49.32,268.90) scale(1.0049,1)" font-size="38.38" fill="#000" >40°N</text>
<text transform="translate(49.01,620.60) scale(1.0086,1)" font-size="38.38" fill="#000" >35°N</text>
<text transform="translate(49.01,951.60) scale(1.0086,1)" font-size="38.38" fill="#000" >30°N</text>
<text transform="translate(48.55,1265.60) scale(1.0141,1)" font-size="38.38" fill="#000" >25°N</text>
<text transform="translate(48.55,1567.20) scale(1.0141,1)" font-size="38.38" fill="#000" >20°N</text>
<text transform="translate(245.88,1660.10) scale(1.0164,1)" font-size="37.81" fill="#000" >110°E</text>
<text transform="translate(525.18,1660.10) scale(1.0129,1)" font-size="37.94" fill="#000" >115°E</text>
<text transform="translate(804.48,1660.10) scale(1.0164,1)" font-size="37.81" fill="#000" >120°E</text>
<text transform="translate(1083.78,1660.10) scale(1.0164,1)" font-size="37.81" fill="#000" >125°E</text>
<text transform="translate(31.30,920.85) rotate(-90) scale(0.9777,1)" font-size="43.61" fill="#000">Latitude</text>
<text transform="translate(604.24,1716.80) scale(1.0075,1)" font-size="42.51" fill="#000" >Longitude</text>
<circle cx="1481.4" cy="188.2" r="5.1" fill="#E9A81A"/>
<circle cx="1481.4" cy="192.9" r="5.1" fill="#E9A81A"/>
<circle cx="1456.1" cy="236.9" r="5.1" fill="#E9A81A"/>
<circle cx="1470.4" cy="239.1" r="5.1" fill="#E9A81A"/>
<circle cx="1457.6" cy="295.6" r="5.1" fill="#E9A81A"/>
<circle cx="1454.7" cy="317.6" r="5.1" fill="#E9A81A"/>
<circle cx="1454.7" cy="342.9" r="5.1" fill="#E9A81A"/>
<circle cx="1485.1" cy="339.3" r="5.1" fill="#E9A81A"/>
<circle cx="1454.7" cy="421.8" r="5.1" fill="#E9A81A"/>
<circle cx="1875.3" cy="45.1" r="5.1" fill="#C8391F"/>
<circle cx="1548.6" cy="121.8" r="5.1" fill="#C8391F"/>
<circle cx="1558.8" cy="138.6" r="5.1" fill="#C8391F"/>
<circle cx="1598.1" cy="159.5" r="5.1" fill="#C8391F"/>
<circle cx="1714.3" cy="176.0" r="5.1" fill="#C8391F"/>
<circle cx="1562.1" cy="197.7" r="5.1" fill="#C8391F"/>
<circle cx="1759.1" cy="217.1" r="5.1" fill="#C8391F"/>
<circle cx="1633.6" cy="248.7" r="5.1" fill="#C8391F"/>
<circle cx="1656.7" cy="289.4" r="5.1" fill="#C8391F"/>
<circle cx="1535.7" cy="319.5" r="5.1" fill="#C8391F"/>
<circle cx="1544.2" cy="341.8" r="5.1" fill="#C8391F"/>
<circle cx="1589.3" cy="346.2" r="5.1" fill="#C8391F"/>
<circle cx="1582.3" cy="355.0" r="5.1" fill="#C8391F"/>
<circle cx="1767.9" cy="338.2" r="5.1" fill="#C8391F"/>
<circle cx="1839.4" cy="118.8" r="5.1" fill="#C8391F"/>
<line x1="1455.4" y1="294.5" x2="1875.3" y2="145.6" stroke="#000" stroke-width="5.6"/>
<rect x="1434.4" y="26.55" width="462.0" height="413.95" fill="none" stroke="#333" stroke-width="3.0"/>
<rect x="1430.8000000000002" y="31.799999999999997" width="2.4" height="5" fill="#333"/>
<rect x="1430.8000000000002" y="131.9" width="2.4" height="5" fill="#333"/>
<rect x="1430.8000000000002" y="232.0" width="2.4" height="5" fill="#333"/>
<rect x="1430.8000000000002" y="331.8" width="2.4" height="5" fill="#333"/>
<rect x="1430.8000000000002" y="431.9" width="2.4" height="5" fill="#333"/>
<rect x="1452.2" y="441.7" width="5" height="1.8" fill="#444"/>
<rect x="1563.8" y="441.7" width="5" height="1.8" fill="#444"/>
<rect x="1676.1" y="441.7" width="5" height="1.8" fill="#444"/>
<rect x="1787.7" y="441.7" width="5" height="1.8" fill="#444"/>
<rect x="1887.2" y="441.7" width="5" height="1.8" fill="#444"/>
<text transform="translate(1373.96,40.80) scale(0.9954,1)" font-size="34.09" fill="#000" >0.6</text>
<text transform="translate(1373.99,141.00) scale(0.9727,1)" font-size="34.09" fill="#000" >0.4</text>
<text transform="translate(1373.95,241.10) scale(0.9984,1)" font-size="34.09" fill="#000" >0.2</text>
<text transform="translate(1373.95,340.90) scale(0.9992,1)" font-size="34.09" fill="#000" >0.0</text>
<text transform="translate(1360.6,440.5) scale(0.9834,1)" font-size="34.37">-<tspan dx="6.41">0.2</tspan></text>
<text transform="translate(1445.14,471.50) scale(0.9930,1)" font-size="34.52" fill="#000" >0</text>
<text transform="translate(1547.77,471.50) scale(0.9466,1)" font-size="34.52" fill="#000" >25</text>
<text transform="translate(1658.68,471.50) scale(0.9634,1)" font-size="34.52" fill="#000" >50</text>
<text transform="translate(1771.45,471.50) scale(0.8990,1)" font-size="35.03" fill="#000" >75</text>
<text transform="translate(1855.93,471.50) scale(0.9519,1)" font-size="34.52" fill="#000" >100</text>
<text transform="translate(1428.22,516.40) scale(1.0221,1)" font-size="33.40" fill="#000" >Percent of mollusc in diet (%)</text>
<text transform="translate(1450.02,75.00) scale(1.0795,1)" font-size="50.37" fill="#000" >b</text>
<circle cx="1590.5" cy="51.0" r="5.2" fill="#C8391F"/>
<circle cx="1590.3" cy="77.4" r="5.0" fill="#E9A81A"/>
<text transform="translate(1606.91,57.50) scale(1.0038,1)" font-size="25.12" fill="#000" >Molluscivorous</text>
<text transform="translate(1606.21,85.80) scale(1.0213,1)" font-size="24.70" fill="#000" >Non−molluscivorous</text>
<text transform="translate(1292.60,445.22) rotate(-90) scale(0.9539,1)" font-size="36.30" fill="#000">Correlation coefficient</text>
<text transform="translate(1330.00,524.25) rotate(-90) scale(0.9530,1)" font-size="32.71" fill="#000">(Shorebird vs. commercial mollusc)</text>
<circle cx="1626.6" cy="691.4" r="4.9" fill="#C8391F"/>
<circle cx="1875.2" cy="725.1" r="4.9" fill="#C8391F"/>
<circle cx="1644.2" cy="765.9" r="4.9" fill="#C8391F"/>
<circle cx="1714.8" cy="752.5" r="4.9" fill="#C8391F"/>
<circle cx="1731.3" cy="761.1" r="4.9" fill="#C8391F"/>
<circle cx="1744.2" cy="781.9" r="4.9" fill="#C8391F"/>
<circle cx="1630.1" cy="814.5" r="4.9" fill="#C8391F"/>
<circle cx="1637.2" cy="824.7" r="4.9" fill="#C8391F"/>
<circle cx="1675.2" cy="808.6" r="4.9" fill="#C8391F"/>
<circle cx="1694.8" cy="825.4" r="4.9" fill="#C8391F"/>
<circle cx="1704.6" cy="849.8" r="4.9" fill="#C8391F"/>
<circle cx="1783.8" cy="808.2" r="4.9" fill="#C8391F"/>
<circle cx="1850.5" cy="817.6" r="4.9" fill="#C8391F"/>
<circle cx="1519.6" cy="849.8" r="4.9" fill="#C8391F"/>
<circle cx="1584.6" cy="907.0" r="4.9" fill="#C8391F"/>
<circle cx="1455.3" cy="941.5" r="4.9" fill="#C8391F"/>
<circle cx="1694.8" cy="786.6" r="4.9" fill="#E9A81A"/>
<circle cx="1875.2" cy="806.2" r="4.9" fill="#E9A81A"/>
<circle cx="1626.6" cy="845.1" r="4.9" fill="#E9A81A"/>
<circle cx="1630.1" cy="860.0" r="4.9" fill="#E9A81A"/>
<circle cx="1675.2" cy="835.3" r="4.9" fill="#E9A81A"/>
<circle cx="1731.3" cy="841.1" r="4.9" fill="#E9A81A"/>
<circle cx="1744.2" cy="867.0" r="4.9" fill="#E9A81A"/>
<circle cx="1644.2" cy="879.2" r="4.9" fill="#E9A81A"/>
<circle cx="1714.8" cy="882.3" r="4.9" fill="#E9A81A"/>
<circle cx="1704.6" cy="896.0" r="4.9" fill="#E9A81A"/>
<circle cx="1783.8" cy="895.2" r="4.9" fill="#E9A81A"/>
<circle cx="1519.6" cy="914.5" r="4.9" fill="#E9A81A"/>
<circle cx="1637.2" cy="912.9" r="4.9" fill="#E9A81A"/>
<circle cx="1584.6" cy="928.6" r="4.9" fill="#E9A81A"/>
<circle cx="1455.3" cy="974.8" r="4.9" fill="#E9A81A"/>
<circle cx="1850.5" cy="1021.1" r="4.9" fill="#E9A81A"/>
<circle cx="1875.2" cy="738.4" r="4.9" fill="#3F62AE"/>
<circle cx="1675.2" cy="833.3" r="4.9" fill="#3F62AE"/>
<circle cx="1744.2" cy="842.3" r="4.9" fill="#3F62AE"/>
<circle cx="1731.3" cy="903.5" r="4.9" fill="#3F62AE"/>
<circle cx="1694.8" cy="912.5" r="4.9" fill="#3F62AE"/>
<circle cx="1626.6" cy="917.6" r="4.9" fill="#3F62AE"/>
<circle cx="1637.2" cy="937.2" r="4.9" fill="#3F62AE"/>
<circle cx="1644.2" cy="940.3" r="4.9" fill="#3F62AE"/>
<circle cx="1519.6" cy="947.0" r="4.9" fill="#3F62AE"/>
<circle cx="1630.1" cy="969.0" r="4.9" fill="#3F62AE"/>
<circle cx="1783.8" cy="951.7" r="4.9" fill="#3F62AE"/>
<circle cx="1714.8" cy="980.3" r="4.9" fill="#3F62AE"/>
<circle cx="1704.6" cy="1001.5" r="4.9" fill="#3F62AE"/>
<circle cx="1584.6" cy="1006.6" r="4.9" fill="#3F62AE"/>
<circle cx="1850.5" cy="1062.7" r="4.9" fill="#3F62AE"/>
<circle cx="1455.3" cy="1087.0" r="4.9" fill="#3F62AE"/>
<line x1="1455.3" y1="881.5" x2="1875.2" y2="743.5" stroke="#C8391F" stroke-width="4.6" />
<line x1="1455.3" y1="911.7" x2="1875.2" y2="860.3" stroke="#E9A81A" stroke-width="4.6" stroke-dasharray="16.4,16.35"/>
<line x1="1455.3" y1="1017.6" x2="1875.2" y2="871.7" stroke="#3F62AE" stroke-width="3.8" />
<rect x="1434.4" y="580.4" width="461.79999999999995" height="525.6999999999999" fill="none" stroke="#231815" stroke-width="3.0"/>
<line x1="1429.9" y1="725" x2="1433.4" y2="725" stroke="#555" stroke-width="2.4"/>
<line x1="1429.9" y1="826.8" x2="1433.4" y2="826.8" stroke="#555" stroke-width="2.4"/>
<line x1="1429.9" y1="928" x2="1433.4" y2="928" stroke="#555" stroke-width="2.4"/>
<line x1="1429.9" y1="1030.2" x2="1433.4" y2="1030.2" stroke="#555" stroke-width="2.4"/>
<line x1="1506.2" y1="1107.1" x2="1506.2" y2="1109.6" stroke="#777" stroke-width="2.4"/>
<line x1="1649.5" y1="1107.1" x2="1649.5" y2="1109.6" stroke="#777" stroke-width="2.4"/>
<line x1="1792.9" y1="1107.1" x2="1792.9" y2="1109.6" stroke="#777" stroke-width="2.4"/>
<text transform="translate(1352.94,732.60) scale(0.9964,1)" font-size="32.80" fill="#000" >1000</text>
<text transform="translate(1370.10,837.80) scale(1.0154,1)" font-size="32.80" fill="#000" >100</text>
<text transform="translate(1389.45,938.20) scale(0.9748,1)" font-size="33.37" fill="#000" >10</text>
<text transform="translate(1409.26,1041.60) scale(0.7234,1)" font-size="33.87" fill="#000" >1</text>
<text transform="translate(1478.22,1138.90) scale(0.9758,1)" font-size="33.80" fill="#000" >100</text>
<text transform="translate(1613.89,1138.90) scale(0.9906,1)" font-size="33.80" fill="#000" >1000</text>
<text transform="translate(1749.15,1138.90) scale(0.9649,1)" font-size="33.80" fill="#000" >10000</text>
<text transform="translate(1221.31,1191.90) scale(0.9502,1)" font-size="34.50" fill="#000" >Maximum commercial mollusc density (Ind. /m²)</text>
<text transform="translate(1447.69,632.10) scale(1.0627,1)" font-size="50.74" fill="#000" >c</text>
<circle cx="1567.7" cy="601.3" r="5.1" fill="#C8391F"/>
<circle cx="1567.7" cy="627.9" r="5.1" fill="#E9A81A"/>
<circle cx="1568.4" cy="653.5" r="5.1" fill="#3F62AE"/>
<text transform="translate(1583.91,608.10) scale(1.0166,1)" font-size="24.84" fill="#000" >Molluscivorous</text>
<text transform="translate(1583.92,636.30) scale(1.0028,1)" font-size="25.12" fill="#000" >Non−molluscivorous</text>
<text transform="translate(1583.91,662.90) scale(1.0179,1)" font-size="24.84" fill="#000" >Diet unknown</text>
<text transform="translate(1294.10,1041.54) rotate(-90) scale(1.0178,1)" font-size="34.36" fill="#000">Maximum shorebird</text>
<text transform="translate(1337.00,1030.52) rotate(-90) scale(0.9494,1)" font-size="36.43" fill="#000">density (Ind. /km²)</text>
<circle cx="1704.6" cy="1256.9" r="4.9" fill="#000"/>
<circle cx="1584.6" cy="1349.0" r="4.9" fill="#000"/>
<circle cx="1519.6" cy="1361.9" r="4.9" fill="#000"/>
<circle cx="1744.2" cy="1345.1" r="4.9" fill="#000"/>
<circle cx="1783.8" cy="1387.8" r="4.9" fill="#000"/>
<circle cx="1850.5" cy="1395.7" r="4.9" fill="#000"/>
<circle cx="1455.3" cy="1418.0" r="4.9" fill="#000"/>
<circle cx="1694.8" cy="1446.2" r="4.9" fill="#000"/>
<circle cx="1731.3" cy="1455.6" r="4.9" fill="#000"/>
<circle cx="1637.2" cy="1489.0" r="4.9" fill="#000"/>
<circle cx="1675.2" cy="1520.3" r="4.9" fill="#000"/>
<circle cx="1644.2" cy="1526.6" r="4.9" fill="#000"/>
<circle cx="1626.6" cy="1533.7" r="4.9" fill="#000"/>
<circle cx="1714.8" cy="1601.1" r="4.9" fill="#000"/>
<circle cx="1630.1" cy="1614.1" r="4.9" fill="#000"/>
<circle cx="1875.2" cy="1624.2" r="4.9" fill="#000"/>
<line x1="1455.3" y1="1461.9" x2="1835.2" y2="1438.0" stroke="#000" stroke-width="4.3" stroke-dasharray="16.6,16.45"/>
<rect x="1434.4" y="1238.1" width="462.0" height="394.5" fill="none" stroke="#231815" stroke-width="3.0"/>
<line x1="1429.9" y1="1286.2" x2="1433.4" y2="1286.2" stroke="#555" stroke-width="2.4"/>
<line x1="1429.9" y1="1424.6" x2="1433.4" y2="1424.6" stroke="#555" stroke-width="2.4"/>
<line x1="1429.9" y1="1561.4" x2="1433.4" y2="1561.4" stroke="#555" stroke-width="2.4"/>
<line x1="1506.2" y1="1633.6" x2="1506.2" y2="1636.1" stroke="#777" stroke-width="2.4"/>
<line x1="1649.5" y1="1633.6" x2="1649.5" y2="1636.1" stroke="#777" stroke-width="2.4"/>
<line x1="1792.9" y1="1633.6" x2="1792.9" y2="1636.1" stroke="#777" stroke-width="2.4"/>
<text transform="translate(1354.36,1297.40) scale(1.0250,1)" font-size="31.65" fill="#000" >1000</text>
<text transform="translate(1371.42,1435.80) scale(1.0441,1)" font-size="31.65" fill="#000" >100</text>
<text transform="translate(1390.35,1572.60) scale(1.0278,1)" font-size="31.65" fill="#000" >10</text>
<text transform="translate(1469.00,1666.70) scale(0.9770,1)" font-size="34.09" fill="#000" >100</text>
<text transform="translate(1605.81,1666.70) scale(0.9753,1)" font-size="34.09" fill="#000" >1000</text>
<text transform="translate(1739.61,1666.70) scale(0.9722,1)" font-size="34.09" fill="#000" >10000</text>
<text transform="translate(1227.90,1716.90) scale(0.9519,1)" font-size="34.50" fill="#000" >Maximum commercial mollusc density (Ind. /m²)</text>
<text transform="translate(1451.34,1293.50) scale(1.0804,1)" font-size="51.06" fill="#000" >d</text>
<text transform="translate(1295.40,1653.07) rotate(-90) scale(0.8620,1)" font-size="37.68" fill="#000">Maximum Non-commercial</text>
<text transform="translate(1336.90,1644.33) rotate(-90) scale(0.9114,1)" font-size="37.12" fill="#000">mollusc density (Ind. /m²)</text>
</svg>
</body></html>
